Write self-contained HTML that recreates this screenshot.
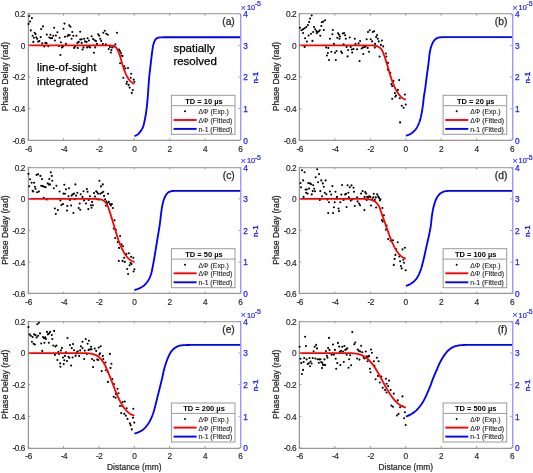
<!DOCTYPE html>
<html><head><meta charset="utf-8"><style>
html,body{margin:0;padding:0;background:#fff;}
svg{display:block;font-family:"Liberation Sans", sans-serif;will-change:transform;}
</style></head><body>
<svg width="533" height="473" viewBox="0 0 533 473">
<rect width="533" height="473" fill="#fff"/>
<clipPath id="ca"><rect x="28.2" y="13.7" width="212.20000000000002" height="126.60000000000001"/></clipPath>
<path d="M27.5 13V141M29 14.5H240.4M29 139.5H240.4" stroke="#e6e6e6" stroke-width="1" fill="none" shape-rendering="crispEdges"/>
<path d="M28 13.5H240.4" stroke="#aaaaaa" stroke-width="1" fill="none" shape-rendering="crispEdges"/>
<path d="M28.5 13V141M28 140.5H240.4" stroke="#969696" stroke-width="1" fill="none" shape-rendering="crispEdges"/>
<path d="M241.5 13.7V140.3" stroke="#d4d4ff" stroke-width="1" fill="none" shape-rendering="crispEdges"/>
<path d="M240.5 13.7V140.3" stroke="#9c9cff" stroke-width="1" fill="none" shape-rendering="crispEdges"/>
<path d="M29.2 16.0h0M31.9 18.1h0M30.0 21.6h0M28.5 24.1h0M30.8 30.4h0M34.6 32.7h0M35.6 34.1h0M32.6 35.8h0M33.9 37.8h0M36.3 37.3h0M37.1 38.8h0M33.3 41.9h0M38.1 41.6h0M39.4 41.1h0M40.7 37.1h0M41.2 29.0h0M43.0 26.4h0M42.2 43.4h0M44.2 46.4h0M45.4 42.9h0M46.7 43.2h0M48.3 46.2h0M46.8 34.6h0M49.3 37.5h0M50.8 38.3h0M52.1 38.1h0M50.5 34.8h0M53.3 35.8h0M54.1 27.7h0M54.9 40.5h0M55.9 35.5h0M57.4 32.2h0M59.6 37.8h0M58.9 45.9h0M60.9 42.2h0M61.9 47.4h0M63.0 46.4h0M63.5 28.7h0M64.5 23.6h0M65.0 36.8h0M66.0 43.9h0M60.4 55.0h0M67.5 36.3h0M68.5 34.8h0M69.3 25.4h0M70.5 26.7h0M69.7 35.3h0M71.6 38.8h0M72.3 32.0h0M73.3 35.8h0M74.1 47.9h0M75.1 46.4h0M76.4 35.8h0M77.7 47.9h0M77.4 42.9h0M78.7 41.9h0M80.2 31.7h0M80.2 39.5h0M81.7 39.3h0M81.7 42.9h0M82.5 49.5h0M83.5 47.4h0M84.2 38.8h0M85.0 41.4h0M86.6 41.9h0M87.6 38.3h0M88.9 40.5h0M87.1 47.4h0M88.6 46.4h0M90.1 47.4h0M91.6 36.3h0M93.1 39.1h0M94.7 40.3h0M96.0 41.1h0M97.0 43.9h0M95.2 47.4h0M94.0 52.7h0M98.2 34.3h0M99.2 35.8h0M100.2 38.8h0M101.2 40.9h0M102.8 43.9h0M103.3 32.7h0M104.8 30.7h0M106.3 33.8h0M107.8 34.8h0M105.8 44.2h0M108.8 49.0h0M109.9 46.9h0M111.4 50.0h0M110.9 52.5h0M112.2 47.4h0M113.9 46.4h0M115.4 44.4h0M117.0 32.7h0M119.0 49.5h0M120.0 51.0h0M121.0 53.0h0M121.5 55.5h0M122.5 56.0h0M120.1 63.2h0M124.3 66.4h0M125.4 68.5h0M128.0 68.0h0M131.2 73.8h0M123.3 77.7h0M130.7 77.7h0M127.0 81.8h0M126.5 83.7h0M128.6 84.9h0M129.6 87.6h0M133.7 79.6h0M134.4 81.8h0M132.8 90.0h0M131.8 92.9h0" stroke="#000" stroke-width="2.1" stroke-linecap="round" fill="none"/>
<polyline points="28.20,45.35 28.64,45.35 29.08,45.35 29.53,45.35 29.97,45.35 30.41,45.35 30.85,45.35 31.29,45.35 31.74,45.35 32.18,45.35 32.62,45.35 33.06,45.35 33.50,45.35 33.95,45.35 34.39,45.35 34.83,45.35 35.27,45.35 35.72,45.35 36.16,45.35 36.60,45.35 37.04,45.35 37.48,45.35 37.93,45.35 38.37,45.35 38.81,45.35 39.25,45.35 39.69,45.35 40.14,45.35 40.58,45.35 41.02,45.35 41.46,45.35 41.90,45.35 42.35,45.35 42.79,45.35 43.23,45.35 43.67,45.35 44.12,45.35 44.56,45.35 45.00,45.35 45.44,45.35 45.88,45.35 46.33,45.35 46.77,45.35 47.21,45.35 47.65,45.35 48.09,45.35 48.54,45.35 48.98,45.35 49.42,45.35 49.86,45.35 50.30,45.35 50.75,45.35 51.19,45.35 51.63,45.35 52.07,45.35 52.51,45.35 52.96,45.35 53.40,45.35 53.84,45.35 54.28,45.35 54.73,45.35 55.17,45.35 55.61,45.35 56.05,45.35 56.49,45.35 56.94,45.35 57.38,45.35 57.82,45.35 58.26,45.35 58.70,45.35 59.15,45.35 59.59,45.35 60.03,45.35 60.47,45.35 60.91,45.35 61.36,45.35 61.80,45.35 62.24,45.35 62.68,45.35 63.12,45.35 63.57,45.35 64.01,45.35 64.45,45.35 64.89,45.35 65.34,45.35 65.78,45.35 66.22,45.35 66.66,45.35 67.10,45.35 67.55,45.35 67.99,45.35 68.43,45.35 68.87,45.35 69.31,45.35 69.76,45.35 70.20,45.35 70.64,45.35 71.08,45.35 71.52,45.35 71.97,45.35 72.41,45.35 72.85,45.35 73.29,45.35 73.73,45.35 74.18,45.35 74.62,45.35 75.06,45.35 75.50,45.35 75.95,45.35 76.39,45.35 76.83,45.35 77.27,45.35 77.71,45.35 78.16,45.35 78.60,45.35 79.04,45.35 79.48,45.35 79.92,45.35 80.37,45.35 80.81,45.35 81.25,45.35 81.69,45.35 82.13,45.35 82.58,45.35 83.02,45.35 83.46,45.35 83.90,45.35 84.34,45.35 84.79,45.35 85.23,45.35 85.67,45.35 86.11,45.35 86.56,45.35 87.00,45.35 87.44,45.35 87.88,45.35 88.32,45.35 88.77,45.35 89.21,45.35 89.65,45.35 90.09,45.35 90.53,45.35 90.98,45.35 91.42,45.35 91.86,45.35 92.30,45.35 92.74,45.35 93.19,45.35 93.63,45.35 94.07,45.35 94.51,45.35 94.95,45.35 95.40,45.35 95.84,45.35 96.28,45.35 96.72,45.35 97.17,45.35 97.61,45.35 98.05,45.35 98.49,45.35 98.93,45.35 99.38,45.35 99.82,45.35 100.26,45.35 100.70,45.35 101.14,45.35 101.59,45.35 102.03,45.35 102.47,45.36 102.91,45.36 103.35,45.36 103.80,45.36 104.24,45.36 104.68,45.37 105.12,45.37 105.56,45.38 106.01,45.38 106.45,45.38 106.89,45.39 107.33,45.40 107.78,45.40 108.22,45.41 108.66,45.42 109.10,45.42 109.54,45.44 109.99,45.45 110.43,45.48 110.87,45.51 111.31,45.54 111.75,45.58 112.20,45.64 112.64,45.71 113.08,45.81 113.52,45.93 113.96,46.09 114.41,46.27 114.85,46.52 115.29,46.82 115.73,47.20 116.17,47.69 116.62,48.30 117.06,49.02 117.50,49.85 117.94,50.77 118.39,51.75 118.83,52.80 119.27,53.91 119.71,55.11 120.15,56.45 120.60,57.96 121.04,59.57 121.48,61.16 121.92,62.71 122.36,64.21 122.81,65.65 123.25,67.03 123.69,68.36 124.13,69.62 124.57,70.83 125.02,71.99 125.46,73.08 125.90,74.09 126.34,75.04 126.78,75.92 127.23,76.74 127.67,77.51 128.11,78.22 128.55,78.89 129.00,79.51 129.44,80.09 129.88,80.62 130.32,81.11 130.76,81.55 131.21,81.95 131.65,82.31 132.09,82.64 132.53,82.92 132.97,83.17 133.42,83.39 133.86,83.60 134.30,83.93" fill="none" stroke="#ff0000" stroke-width="1.8" stroke-linejoin="round"/>
<polyline points="134.40,135.90 134.75,135.86 135.11,135.78 135.46,135.66 135.82,135.52 136.17,135.35 136.53,135.15 136.88,134.94 137.24,134.72 137.59,134.48 137.95,134.24 138.30,133.97 138.65,133.64 139.01,133.26 139.36,132.83 139.72,132.37 140.07,131.89 140.43,131.38 140.78,130.87 141.14,130.36 141.49,129.84 141.84,129.29 142.20,128.70 142.55,128.03 142.91,127.26 143.26,126.35 143.62,125.14 143.97,123.69 144.33,122.13 144.68,120.49 145.04,118.69 145.39,116.73 145.74,114.63 146.10,112.36 146.45,109.84 146.81,106.99 147.16,103.68 147.52,99.94 147.87,95.56 148.23,90.38 148.58,85.07 148.94,80.35 149.29,76.58 149.64,73.28 150.00,70.11 150.35,66.97 150.71,63.93 151.06,60.92 151.42,57.84 151.77,54.78 152.13,52.01 152.48,49.48 152.83,47.16 153.19,45.34 153.54,43.97 153.90,42.78 154.25,41.77 154.61,40.95 154.96,40.33 155.32,39.78 155.67,39.29 156.03,38.87 156.38,38.53 156.73,38.28 157.09,38.12 157.44,37.98 157.80,37.85 158.15,37.74 158.51,37.64 158.86,37.56 159.22,37.49 159.57,37.44 159.93,37.41 160.28,37.39 160.63,37.38 160.99,37.36 161.34,37.35 161.70,37.34 162.05,37.32 162.41,37.31 162.76,37.30 163.12,37.29 163.47,37.28 163.82,37.27 164.18,37.26 164.53,37.26 164.89,37.25 165.24,37.24 165.60,37.24 165.95,37.23 166.31,37.22 166.66,37.22 167.02,37.22 167.37,37.21 167.72,37.21 168.08,37.21 168.43,37.20 168.79,37.20 169.14,37.20 169.50,37.20 169.85,37.20 170.21,37.20 170.56,37.20 170.92,37.20 171.27,37.20 171.62,37.20 171.98,37.20 172.33,37.20 172.69,37.20 173.04,37.20 173.40,37.20 173.75,37.20 174.11,37.20 174.46,37.20 174.81,37.20 175.17,37.20 175.52,37.20 175.88,37.20 176.23,37.20 176.59,37.20 176.94,37.20 177.30,37.20 177.65,37.20 178.01,37.20 178.36,37.20 178.71,37.20 179.07,37.20 179.42,37.20 179.78,37.20 180.13,37.20 180.49,37.20 180.84,37.20 181.20,37.20 181.55,37.20 181.91,37.20 182.26,37.20 182.61,37.20 182.97,37.20 183.32,37.20 183.68,37.20 184.03,37.20 184.39,37.20 184.74,37.20 185.10,37.20 185.45,37.20 185.80,37.20 186.16,37.20 186.51,37.20 186.87,37.20 187.22,37.20 187.58,37.20 187.93,37.20 188.29,37.20 188.64,37.20 189.00,37.20 189.35,37.20 189.70,37.20 190.06,37.20 190.41,37.20 190.77,37.20 191.12,37.20 191.48,37.20 191.83,37.20 192.19,37.20 192.54,37.20 192.89,37.20 193.25,37.20 193.60,37.20 193.96,37.20 194.31,37.20 194.67,37.20 195.02,37.20 195.38,37.20 195.73,37.20 196.09,37.20 196.44,37.20 196.79,37.20 197.15,37.20 197.50,37.20 197.86,37.20 198.21,37.20 198.57,37.20 198.92,37.20 199.28,37.20 199.63,37.20 199.99,37.20 200.34,37.20 200.69,37.20 201.05,37.20 201.40,37.20 201.76,37.20 202.11,37.20 202.47,37.20 202.82,37.20 203.18,37.20 203.53,37.20 203.88,37.20 204.24,37.20 204.59,37.20 204.95,37.20 205.30,37.20 205.66,37.20 206.01,37.20 206.37,37.20 206.72,37.20 207.08,37.20 207.43,37.20 207.78,37.20 208.14,37.20 208.49,37.20 208.85,37.20 209.20,37.20 209.56,37.20 209.91,37.20 210.27,37.20 210.62,37.20 210.98,37.20 211.33,37.20 211.68,37.20 212.04,37.20 212.39,37.20 212.75,37.20 213.10,37.20 213.46,37.20 213.81,37.20 214.17,37.20 214.52,37.20 214.87,37.20 215.23,37.20 215.58,37.20 215.94,37.20 216.29,37.20 216.65,37.20 217.00,37.20 217.36,37.20 217.71,37.20 218.07,37.20 218.42,37.20 218.77,37.20 219.13,37.20 219.48,37.20 219.84,37.20 220.19,37.20 220.55,37.20 220.90,37.20 221.26,37.20 221.61,37.20 221.97,37.20 222.32,37.20 222.67,37.20 223.03,37.20 223.38,37.20 223.74,37.20 224.09,37.20 224.45,37.20 224.80,37.20 225.16,37.20 225.51,37.20 225.86,37.20 226.22,37.20 226.57,37.20 226.93,37.20 227.28,37.20 227.64,37.20 227.99,37.20 228.35,37.20 228.70,37.20 229.06,37.20 229.41,37.20 229.76,37.20 230.12,37.20 230.47,37.20 230.83,37.20 231.18,37.20 231.54,37.20 231.89,37.20 232.25,37.20 232.60,37.20 232.96,37.20 233.31,37.20 233.66,37.20 234.02,37.20 234.37,37.20 234.73,37.20 235.08,37.20 235.44,37.20 235.79,37.20 236.15,37.20 236.50,37.20 236.85,37.20 237.21,37.20 237.56,37.20 237.92,37.20 238.27,37.20 238.63,37.20 238.98,37.20 239.34,37.20 239.69,37.20 240.05,37.20 240.40,37.20" fill="none" stroke="#0000ff" stroke-width="1.85" stroke-linejoin="round" clip-path="url(#ca)"/>
<path d="M28.2 140.3v-2M28.2 13.7v2M63.6 140.3v-2M63.6 13.7v2M98.9 140.3v-2M98.9 13.7v2M134.3 140.3v-2M134.3 13.7v2M169.7 140.3v-2M169.7 13.7v2M205.0 140.3v-2M205.0 13.7v2M240.4 140.3v-2M240.4 13.7v2M28.2 13.7h2M28.2 45.4h2M28.2 77.0h2M28.2 108.7h2M28.2 140.3h2" stroke="#969696" stroke-width="1" fill="none"/>
<path d="M240.4 140.3h-2M240.4 108.7h-2M240.4 77.0h-2M240.4 45.4h-2M240.4 13.7h-2" stroke="#9c9cff" stroke-width="1" fill="none"/>
<text x="24.9" y="17.1" text-anchor="end" font-size="8.3" letter-spacing="-0.5" fill="#262626" stroke="#262626" stroke-width="0.15">0.2</text>
<text x="24.9" y="48.8" text-anchor="end" font-size="8.3" letter-spacing="-0.5" fill="#262626" stroke="#262626" stroke-width="0.15">0</text>
<text x="24.9" y="80.4" text-anchor="end" font-size="8.3" letter-spacing="-0.5" fill="#262626" stroke="#262626" stroke-width="0.15">-0.2</text>
<text x="24.9" y="112.1" text-anchor="end" font-size="8.3" letter-spacing="-0.5" fill="#262626" stroke="#262626" stroke-width="0.15">-0.4</text>
<text x="24.9" y="143.7" text-anchor="end" font-size="8.3" letter-spacing="-0.5" fill="#262626" stroke="#262626" stroke-width="0.15">-0.6</text>
<text x="28.6" y="151.6" text-anchor="middle" font-size="8.3" letter-spacing="-0.4" fill="#262626" stroke="#262626" stroke-width="0.15">-6</text>
<text x="64.0" y="151.6" text-anchor="middle" font-size="8.3" letter-spacing="-0.4" fill="#262626" stroke="#262626" stroke-width="0.15">-4</text>
<text x="99.3" y="151.6" text-anchor="middle" font-size="8.3" letter-spacing="-0.4" fill="#262626" stroke="#262626" stroke-width="0.15">-2</text>
<text x="134.5" y="151.6" text-anchor="middle" font-size="8.3" fill="#262626" stroke="#262626" stroke-width="0.15">0</text>
<text x="169.9" y="151.6" text-anchor="middle" font-size="8.3" fill="#262626" stroke="#262626" stroke-width="0.15">2</text>
<text x="205.2" y="151.6" text-anchor="middle" font-size="8.3" fill="#262626" stroke="#262626" stroke-width="0.15">4</text>
<text x="240.6" y="151.6" text-anchor="middle" font-size="8.3" fill="#262626" stroke="#262626" stroke-width="0.15">6</text>
<text x="243.3" y="143.5" font-size="8.3" fill="#2020ff" stroke="#2020ff" stroke-width="0.25">0</text>
<text x="243.3" y="111.9" font-size="8.3" fill="#2020ff" stroke="#2020ff" stroke-width="0.25">1</text>
<text x="243.3" y="80.2" font-size="8.3" fill="#2020ff" stroke="#2020ff" stroke-width="0.25">2</text>
<text x="243.3" y="48.6" font-size="8.3" fill="#2020ff" stroke="#2020ff" stroke-width="0.25">3</text>
<text x="243.3" y="16.9" font-size="8.3" fill="#2020ff" stroke="#2020ff" stroke-width="0.25">4</text>
<text x="240.6" y="10.6" font-size="9.5" fill="#2020ff">×</text>
<text x="246.9" y="9.8" font-size="7.4" stroke="#2020ff" stroke-width="0.2" fill="#2020ff">10</text>
<text x="254.7" y="6.3" font-size="7" stroke="#2020ff" stroke-width="0.2" fill="#2020ff">-5</text>
<text transform="translate(7.8,76.6) rotate(-90)" text-anchor="middle" font-size="8.6" fill="#262626" stroke="#262626" stroke-width="0.25">Phase Delay (rad)</text>
<text transform="translate(258.2,77.6) rotate(-90)" text-anchor="middle" font-size="8.1" fill="#2020ff" stroke="#2020ff" stroke-width="0.35">n-1</text>
<text x="234.8" y="24.9" text-anchor="end" font-size="10.3" fill="#262626" stroke="#262626" stroke-width="0.25">(a)</text>
<rect x="171.4" y="95.3" width="63.6" height="39.0" fill="#fff" stroke="#9a9a9a" stroke-width="1"/>
<path d="M171.4 105.7H235.0" stroke="#9a9a9a" stroke-width="1"/>
<text x="204.0" y="103.5" text-anchor="middle" font-size="7.5" font-weight="bold" fill="#000">TD = 10 µs</text>
<circle cx="185.0" cy="111.3" r="1" fill="#000"/>
<path d="M173.6 120.0h23" stroke="#ff0000" stroke-width="1.9"/>
<path d="M173.6 128.9h23" stroke="#0000ff" stroke-width="1.9"/>
<text x="198.5" y="114.1" font-size="6.9" fill="#262626" stroke="#262626" stroke-width="0.12">ΔΦ (Exp.)</text>
<text x="198.5" y="122.8" font-size="6.9" fill="#262626" stroke="#262626" stroke-width="0.12">ΔΦ (Fitted)</text>
<text x="198.5" y="131.5" font-size="6.9" fill="#262626" stroke="#262626" stroke-width="0.12">n-1 (Fitted)</text>
<clipPath id="cb"><rect x="299.4" y="13.7" width="212.70000000000005" height="126.60000000000001"/></clipPath>
<path d="M298.5 13V141M300 14.5H512.1M300 139.5H512.1" stroke="#e6e6e6" stroke-width="1" fill="none" shape-rendering="crispEdges"/>
<path d="M299 13.5H512.1" stroke="#aaaaaa" stroke-width="1" fill="none" shape-rendering="crispEdges"/>
<path d="M299.5 13V141M299 140.5H512.1" stroke="#969696" stroke-width="1" fill="none" shape-rendering="crispEdges"/>
<path d="M513.5 13.7V140.3" stroke="#d4d4ff" stroke-width="1" fill="none" shape-rendering="crispEdges"/>
<path d="M512.5 13.7V140.3" stroke="#9c9cff" stroke-width="1" fill="none" shape-rendering="crispEdges"/>
<path d="M311.7 15.5h0M310.1 18.6h0M309.1 22.1h0M307.9 25.1h0M306.3 27.0h0M304.6 28.2h0M303.1 29.2h0M301.5 30.2h0M300.0 27.7h0M303.1 33.0h0M305.1 38.3h0M306.9 41.6h0M308.6 35.5h0M311.0 33.8h0M313.2 32.0h0M312.4 40.9h0M314.0 27.0h0M315.2 29.2h0M316.4 31.0h0M316.7 33.2h0M317.7 32.0h0M318.8 31.2h0M319.8 30.2h0M320.3 35.8h0M321.3 26.0h0M321.8 22.3h0M323.3 21.6h0M325.1 20.3h0M323.8 30.0h0M304.6 46.9h0M326.1 47.4h0M328.4 47.9h0M326.9 55.5h0M327.9 53.0h0M329.9 38.8h0M331.4 51.7h0M332.4 34.3h0M332.9 30.0h0M333.9 43.9h0M335.0 52.7h0M336.5 51.0h0M337.3 37.8h0M338.0 33.2h0M339.0 34.8h0M340.0 36.5h0M339.5 38.8h0M341.1 51.5h0M342.1 53.0h0M342.8 33.5h0M344.1 33.0h0M345.1 35.3h0M345.8 38.8h0M343.6 44.4h0M346.6 46.9h0M348.1 50.0h0M347.6 56.4h0M349.7 37.5h0M350.7 46.9h0M351.7 49.5h0M352.2 52.5h0M353.5 49.0h0M354.8 38.8h0M355.5 43.9h0M357.1 49.3h0M358.6 43.4h0M360.1 41.1h0M361.6 48.5h0M363.1 47.4h0M364.6 46.9h0M365.7 46.4h0M366.7 39.3h0M368.0 32.0h0M369.7 30.2h0M370.7 39.3h0M372.1 41.4h0M372.8 32.0h0M374.1 31.2h0M367.7 47.9h0M369.0 51.7h0M363.3 54.0h0M375.1 43.9h0M374.8 47.6h0M376.1 37.1h0M377.1 35.1h0M377.8 38.8h0M378.8 41.4h0M381.9 40.5h0M380.9 44.9h0M383.2 46.4h0M379.6 56.5h0M385.9 53.5h0M386.4 56.5h0M388.0 62.9h0M387.8 69.6h0M390.3 72.8h0M393.5 81.0h0M399.2 80.1h0M391.3 84.0h0M392.2 86.1h0M397.9 89.9h0M394.8 93.1h0M396.0 95.6h0M392.2 98.8h0M395.4 96.7h0M399.8 98.2h0M404.9 94.6h0M401.8 105.8h0M403.6 107.7h0M405.8 104.5h0M400.1 122.4h0M329.0 60.0h0M335.8 60.0h0M359.6 61.0h0" stroke="#000" stroke-width="2.1" stroke-linecap="round" fill="none"/>
<polyline points="299.40,45.35 299.84,45.35 300.29,45.35 300.73,45.35 301.17,45.35 301.62,45.35 302.06,45.35 302.50,45.35 302.94,45.35 303.39,45.35 303.83,45.35 304.27,45.35 304.72,45.35 305.16,45.35 305.60,45.35 306.05,45.35 306.49,45.35 306.93,45.35 307.38,45.35 307.82,45.35 308.26,45.35 308.71,45.35 309.15,45.35 309.59,45.35 310.03,45.35 310.48,45.35 310.92,45.35 311.36,45.35 311.81,45.35 312.25,45.35 312.69,45.35 313.14,45.35 313.58,45.35 314.02,45.35 314.47,45.35 314.91,45.35 315.35,45.35 315.80,45.35 316.24,45.35 316.68,45.35 317.12,45.35 317.57,45.35 318.01,45.35 318.45,45.35 318.90,45.35 319.34,45.35 319.78,45.35 320.23,45.35 320.67,45.35 321.11,45.35 321.56,45.35 322.00,45.35 322.44,45.35 322.89,45.35 323.33,45.35 323.77,45.35 324.21,45.35 324.66,45.35 325.10,45.35 325.54,45.35 325.99,45.35 326.43,45.35 326.87,45.35 327.32,45.35 327.76,45.35 328.20,45.35 328.65,45.35 329.09,45.35 329.53,45.35 329.98,45.35 330.42,45.35 330.86,45.35 331.31,45.35 331.75,45.35 332.19,45.35 332.63,45.35 333.08,45.35 333.52,45.35 333.96,45.35 334.41,45.35 334.85,45.35 335.29,45.35 335.74,45.35 336.18,45.35 336.62,45.35 337.07,45.35 337.51,45.35 337.95,45.35 338.39,45.35 338.84,45.35 339.28,45.35 339.72,45.35 340.17,45.35 340.61,45.35 341.05,45.35 341.50,45.35 341.94,45.35 342.38,45.35 342.83,45.35 343.27,45.35 343.71,45.35 344.16,45.35 344.60,45.35 345.04,45.35 345.49,45.35 345.93,45.35 346.37,45.35 346.81,45.35 347.26,45.35 347.70,45.35 348.14,45.35 348.59,45.35 349.03,45.35 349.47,45.35 349.92,45.35 350.36,45.35 350.80,45.35 351.25,45.35 351.69,45.35 352.13,45.35 352.57,45.35 353.02,45.35 353.46,45.35 353.90,45.35 354.35,45.35 354.79,45.35 355.23,45.35 355.68,45.35 356.12,45.35 356.56,45.35 357.01,45.35 357.45,45.35 357.89,45.35 358.34,45.35 358.78,45.35 359.22,45.35 359.67,45.35 360.11,45.35 360.55,45.35 360.99,45.35 361.44,45.35 361.88,45.35 362.32,45.35 362.77,45.35 363.21,45.35 363.65,45.35 364.10,45.35 364.54,45.35 364.98,45.35 365.43,45.35 365.87,45.35 366.31,45.35 366.75,45.35 367.20,45.35 367.64,45.36 368.08,45.36 368.53,45.36 368.97,45.37 369.41,45.38 369.86,45.38 370.30,45.39 370.74,45.40 371.19,45.41 371.63,45.43 372.07,45.44 372.52,45.46 372.96,45.48 373.40,45.52 373.85,45.56 374.29,45.61 374.73,45.68 375.17,45.75 375.62,45.84 376.06,45.93 376.50,46.04 376.95,46.18 377.39,46.33 377.83,46.51 378.28,46.72 378.72,46.95 379.16,47.22 379.61,47.52 380.05,47.88 380.49,48.28 380.94,48.74 381.38,49.27 381.82,49.89 382.26,50.65 382.71,51.63 383.15,52.72 383.59,53.86 384.04,55.05 384.48,56.27 384.92,57.55 385.37,58.88 385.81,60.29 386.25,61.74 386.70,63.18 387.14,64.58 387.58,65.98 388.02,67.47 388.47,69.04 388.91,70.63 389.35,72.19 389.80,73.71 390.24,75.19 390.68,76.62 391.13,78.01 391.57,79.34 392.01,80.61 392.46,81.83 392.90,83.00 393.34,84.11 393.79,85.18 394.23,86.21 394.67,87.19 395.12,88.12 395.56,89.01 396.00,89.86 396.44,90.66 396.89,91.42 397.33,92.15 397.77,92.83 398.22,93.48 398.66,94.09 399.10,94.67 399.55,95.22 399.99,95.73 400.43,96.21 400.88,96.66 401.32,97.07 401.76,97.45 402.21,97.80 402.65,98.12 403.09,98.42 403.53,98.68 403.98,98.92 404.42,99.14 404.86,99.34 405.31,99.53 405.75,99.86" fill="none" stroke="#ff0000" stroke-width="1.8" stroke-linejoin="round"/>
<polyline points="405.80,135.60 406.16,135.55 406.51,135.49 406.87,135.40 407.22,135.31 407.58,135.20 407.93,135.07 408.29,134.94 408.64,134.80 409.00,134.65 409.36,134.49 409.71,134.33 410.07,134.17 410.42,133.98 410.78,133.78 411.13,133.54 411.49,133.29 411.84,133.02 412.20,132.74 412.55,132.44 412.91,132.13 413.27,131.82 413.62,131.50 413.98,131.16 414.33,130.81 414.69,130.44 415.04,130.05 415.40,129.63 415.75,129.18 416.11,128.71 416.47,128.20 416.82,127.64 417.18,127.02 417.53,126.35 417.89,125.62 418.24,124.85 418.60,124.04 418.95,123.18 419.31,122.24 419.67,121.22 420.02,120.10 420.38,118.89 420.73,117.51 421.09,115.94 421.44,114.21 421.80,112.38 422.15,110.41 422.51,108.20 422.86,105.64 423.22,102.57 423.58,99.44 423.93,96.29 424.29,93.81 424.64,91.88 425.00,89.94 425.35,87.52 425.71,84.73 426.06,81.76 426.42,78.82 426.78,76.07 427.13,73.47 427.49,70.93 427.84,68.38 428.20,65.76 428.55,63.00 428.91,59.89 429.26,56.33 429.62,53.48 429.98,51.49 430.33,49.80 430.69,48.35 431.04,47.10 431.40,46.00 431.75,45.00 432.11,44.10 432.46,43.29 432.82,42.58 433.17,41.98 433.53,41.43 433.89,40.91 434.24,40.43 434.60,40.00 434.95,39.62 435.31,39.29 435.66,39.02 436.02,38.80 436.37,38.58 436.73,38.38 437.09,38.19 437.44,38.01 437.80,37.85 438.15,37.71 438.51,37.60 438.86,37.50 439.22,37.43 439.57,37.39 439.93,37.36 440.29,37.33 440.64,37.31 441.00,37.28 441.35,37.26 441.71,37.23 442.06,37.21 442.42,37.19 442.77,37.18 443.13,37.16 443.48,37.15 443.84,37.13 444.20,37.12 444.55,37.12 444.91,37.11 445.26,37.10 445.62,37.10 445.97,37.10 446.33,37.10 446.68,37.10 447.04,37.10 447.40,37.10 447.75,37.10 448.11,37.10 448.46,37.10 448.82,37.10 449.17,37.10 449.53,37.10 449.88,37.10 450.24,37.10 450.60,37.10 450.95,37.10 451.31,37.10 451.66,37.10 452.02,37.10 452.37,37.10 452.73,37.10 453.08,37.10 453.44,37.10 453.79,37.10 454.15,37.10 454.51,37.10 454.86,37.10 455.22,37.10 455.57,37.10 455.93,37.10 456.28,37.10 456.64,37.10 456.99,37.10 457.35,37.10 457.71,37.10 458.06,37.10 458.42,37.10 458.77,37.10 459.13,37.10 459.48,37.10 459.84,37.10 460.19,37.10 460.55,37.10 460.91,37.10 461.26,37.10 461.62,37.10 461.97,37.10 462.33,37.10 462.68,37.10 463.04,37.10 463.39,37.10 463.75,37.10 464.11,37.10 464.46,37.10 464.82,37.10 465.17,37.10 465.53,37.10 465.88,37.10 466.24,37.10 466.59,37.10 466.95,37.10 467.30,37.10 467.66,37.10 468.02,37.10 468.37,37.10 468.73,37.10 469.08,37.10 469.44,37.10 469.79,37.10 470.15,37.10 470.50,37.10 470.86,37.10 471.22,37.10 471.57,37.10 471.93,37.10 472.28,37.10 472.64,37.10 472.99,37.10 473.35,37.10 473.70,37.10 474.06,37.10 474.42,37.10 474.77,37.10 475.13,37.10 475.48,37.10 475.84,37.10 476.19,37.10 476.55,37.10 476.90,37.10 477.26,37.10 477.61,37.10 477.97,37.10 478.33,37.10 478.68,37.10 479.04,37.10 479.39,37.10 479.75,37.10 480.10,37.10 480.46,37.10 480.81,37.10 481.17,37.10 481.53,37.10 481.88,37.10 482.24,37.10 482.59,37.10 482.95,37.10 483.30,37.10 483.66,37.10 484.01,37.10 484.37,37.10 484.73,37.10 485.08,37.10 485.44,37.10 485.79,37.10 486.15,37.10 486.50,37.10 486.86,37.10 487.21,37.10 487.57,37.10 487.92,37.10 488.28,37.10 488.64,37.10 488.99,37.10 489.35,37.10 489.70,37.10 490.06,37.10 490.41,37.10 490.77,37.10 491.12,37.10 491.48,37.10 491.84,37.10 492.19,37.10 492.55,37.10 492.90,37.10 493.26,37.10 493.61,37.10 493.97,37.10 494.32,37.10 494.68,37.10 495.04,37.10 495.39,37.10 495.75,37.10 496.10,37.10 496.46,37.10 496.81,37.10 497.17,37.10 497.52,37.10 497.88,37.10 498.23,37.10 498.59,37.10 498.95,37.10 499.30,37.10 499.66,37.10 500.01,37.10 500.37,37.10 500.72,37.10 501.08,37.10 501.43,37.10 501.79,37.10 502.15,37.10 502.50,37.10 502.86,37.10 503.21,37.10 503.57,37.10 503.92,37.10 504.28,37.10 504.63,37.10 504.99,37.10 505.35,37.10 505.70,37.10 506.06,37.10 506.41,37.10 506.77,37.10 507.12,37.10 507.48,37.10 507.83,37.10 508.19,37.10 508.54,37.10 508.90,37.10 509.26,37.10 509.61,37.10 509.97,37.10 510.32,37.10 510.68,37.10 511.03,37.10 511.39,37.10 511.74,37.10 512.10,37.10" fill="none" stroke="#0000ff" stroke-width="1.85" stroke-linejoin="round" clip-path="url(#cb)"/>
<path d="M299.4 140.3v-2M299.4 13.7v2M334.8 140.3v-2M334.8 13.7v2M370.3 140.3v-2M370.3 13.7v2M405.8 140.3v-2M405.8 13.7v2M441.2 140.3v-2M441.2 13.7v2M476.7 140.3v-2M476.7 13.7v2M512.1 140.3v-2M512.1 13.7v2M299.4 13.7h2M299.4 45.4h2M299.4 77.0h2M299.4 108.7h2M299.4 140.3h2" stroke="#969696" stroke-width="1" fill="none"/>
<path d="M512.1 140.3h-2M512.1 108.7h-2M512.1 77.0h-2M512.1 45.4h-2M512.1 13.7h-2" stroke="#9c9cff" stroke-width="1" fill="none"/>
<text x="296.1" y="17.1" text-anchor="end" font-size="8.3" letter-spacing="-0.5" fill="#262626" stroke="#262626" stroke-width="0.15">0.2</text>
<text x="296.1" y="48.8" text-anchor="end" font-size="8.3" letter-spacing="-0.5" fill="#262626" stroke="#262626" stroke-width="0.15">0</text>
<text x="296.1" y="80.4" text-anchor="end" font-size="8.3" letter-spacing="-0.5" fill="#262626" stroke="#262626" stroke-width="0.15">-0.2</text>
<text x="296.1" y="112.1" text-anchor="end" font-size="8.3" letter-spacing="-0.5" fill="#262626" stroke="#262626" stroke-width="0.15">-0.4</text>
<text x="296.1" y="143.7" text-anchor="end" font-size="8.3" letter-spacing="-0.5" fill="#262626" stroke="#262626" stroke-width="0.15">-0.6</text>
<text x="299.8" y="151.6" text-anchor="middle" font-size="8.3" letter-spacing="-0.4" fill="#262626" stroke="#262626" stroke-width="0.15">-6</text>
<text x="335.2" y="151.6" text-anchor="middle" font-size="8.3" letter-spacing="-0.4" fill="#262626" stroke="#262626" stroke-width="0.15">-4</text>
<text x="370.7" y="151.6" text-anchor="middle" font-size="8.3" letter-spacing="-0.4" fill="#262626" stroke="#262626" stroke-width="0.15">-2</text>
<text x="405.9" y="151.6" text-anchor="middle" font-size="8.3" fill="#262626" stroke="#262626" stroke-width="0.15">0</text>
<text x="441.4" y="151.6" text-anchor="middle" font-size="8.3" fill="#262626" stroke="#262626" stroke-width="0.15">2</text>
<text x="476.9" y="151.6" text-anchor="middle" font-size="8.3" fill="#262626" stroke="#262626" stroke-width="0.15">4</text>
<text x="512.3" y="151.6" text-anchor="middle" font-size="8.3" fill="#262626" stroke="#262626" stroke-width="0.15">6</text>
<text x="515.0" y="143.5" font-size="8.3" fill="#2020ff" stroke="#2020ff" stroke-width="0.25">0</text>
<text x="515.0" y="111.9" font-size="8.3" fill="#2020ff" stroke="#2020ff" stroke-width="0.25">1</text>
<text x="515.0" y="80.2" font-size="8.3" fill="#2020ff" stroke="#2020ff" stroke-width="0.25">2</text>
<text x="515.0" y="48.6" font-size="8.3" fill="#2020ff" stroke="#2020ff" stroke-width="0.25">3</text>
<text x="515.0" y="16.9" font-size="8.3" fill="#2020ff" stroke="#2020ff" stroke-width="0.25">4</text>
<text x="512.3" y="10.6" font-size="9.5" fill="#2020ff">×</text>
<text x="518.6" y="9.8" font-size="7.4" stroke="#2020ff" stroke-width="0.2" fill="#2020ff">10</text>
<text x="526.4" y="6.3" font-size="7" stroke="#2020ff" stroke-width="0.2" fill="#2020ff">-5</text>
<text transform="translate(279.0,76.6) rotate(-90)" text-anchor="middle" font-size="8.6" fill="#262626" stroke="#262626" stroke-width="0.25">Phase Delay (rad)</text>
<text transform="translate(529.9,77.6) rotate(-90)" text-anchor="middle" font-size="8.1" fill="#2020ff" stroke="#2020ff" stroke-width="0.35">n-1</text>
<text x="507.4" y="24.9" text-anchor="end" font-size="10.3" fill="#262626" stroke="#262626" stroke-width="0.25">(b)</text>
<rect x="443.1" y="95.3" width="63.6" height="39.0" fill="#fff" stroke="#9a9a9a" stroke-width="1"/>
<path d="M443.1 105.7H506.7" stroke="#9a9a9a" stroke-width="1"/>
<text x="475.7" y="103.5" text-anchor="middle" font-size="7.5" font-weight="bold" fill="#000">TD = 20 µs</text>
<circle cx="456.7" cy="111.3" r="1" fill="#000"/>
<path d="M445.3 120.0h23" stroke="#ff0000" stroke-width="1.9"/>
<path d="M445.3 128.9h23" stroke="#0000ff" stroke-width="1.9"/>
<text x="470.2" y="114.1" font-size="6.9" fill="#262626" stroke="#262626" stroke-width="0.12">ΔΦ (Exp.)</text>
<text x="470.2" y="122.8" font-size="6.9" fill="#262626" stroke="#262626" stroke-width="0.12">ΔΦ (Fitted)</text>
<text x="470.2" y="131.5" font-size="6.9" fill="#262626" stroke="#262626" stroke-width="0.12">n-1 (Fitted)</text>
<clipPath id="cc"><rect x="28.2" y="167.3" width="212.20000000000002" height="126.39999999999998"/></clipPath>
<path d="M27.5 167V294M29 168.5H240.4M29 292.5H240.4" stroke="#e6e6e6" stroke-width="1" fill="none" shape-rendering="crispEdges"/>
<path d="M28 167.5H240.4" stroke="#aaaaaa" stroke-width="1" fill="none" shape-rendering="crispEdges"/>
<path d="M28.5 167V294M28 293.5H240.4" stroke="#969696" stroke-width="1" fill="none" shape-rendering="crispEdges"/>
<path d="M241.5 167.3V293.7" stroke="#d4d4ff" stroke-width="1" fill="none" shape-rendering="crispEdges"/>
<path d="M240.5 167.3V293.7" stroke="#9c9cff" stroke-width="1" fill="none" shape-rendering="crispEdges"/>
<path d="M28.5 173.9h0M30.0 179.2h0M29.2 186.2h0M31.6 182.7h0M34.1 182.7h0M34.9 186.8h0M35.6 188.8h0M32.6 190.8h0M33.3 191.5h0M37.1 192.3h0M38.9 191.5h0M36.6 174.9h0M38.1 174.3h0M40.4 175.9h0M42.0 179.0h0M41.2 185.7h0M42.7 186.1h0M44.2 186.8h0M45.7 187.3h0M43.7 197.9h0M46.7 199.4h0M47.8 183.4h0M49.3 179.0h0M49.1 184.7h0M50.1 184.4h0M50.8 172.3h0M51.8 175.9h0M52.3 180.7h0M53.8 188.3h0M56.4 185.7h0M54.9 208.5h0M57.9 210.1h0M59.6 191.5h0M60.4 200.4h0M61.4 205.0h0M63.0 204.0h0M63.5 193.6h0M65.0 193.8h0M64.3 184.7h0M66.0 189.3h0M67.3 206.0h0M67.0 210.6h0M68.5 196.2h0M69.0 188.3h0M70.0 199.9h0M71.1 205.5h0M71.6 195.6h0M72.6 194.4h0M74.1 193.6h0M75.4 184.4h0M74.8 199.2h0M76.1 195.6h0M77.4 192.8h0M79.7 203.5h0M78.7 208.0h0M80.7 194.2h0M80.2 209.8h0M82.5 196.9h0M83.5 191.3h0M84.0 200.4h0M86.0 203.5h0M86.9 189.1h0M87.6 191.8h0M88.6 199.9h0M89.9 196.2h0M92.1 201.9h0M90.9 205.3h0M92.9 205.3h0M91.6 207.7h0M88.3 209.1h0M94.0 193.1h0M95.0 196.6h0M96.2 191.3h0M97.2 192.3h0M98.0 193.6h0M98.7 199.6h0M99.4 180.7h0M101.0 186.4h0M102.8 184.4h0M100.2 193.8h0M101.8 192.8h0M103.3 191.8h0M104.1 195.9h0M108.1 193.8h0M105.1 199.2h0M106.3 201.4h0M107.3 203.0h0M108.8 201.9h0M109.9 204.0h0M110.9 205.5h0M111.9 204.0h0M105.8 205.7h0M112.9 208.0h0M114.6 220.2h0M113.7 228.5h0M115.9 229.8h0M115.2 238.0h0M120.1 236.1h0M117.8 242.1h0M121.6 244.4h0M123.1 246.3h0M119.0 247.9h0M126.4 253.9h0M128.9 253.2h0M124.1 257.7h0M131.1 256.8h0M133.3 257.7h0M118.8 260.9h0M122.6 260.9h0M124.8 261.9h0M130.5 262.8h0M131.5 264.1h0M129.6 265.2h0M127.2 269.0h0M134.4 269.2h0M133.6 271.5h0M128.1 274.0h0M55.8 214.0h0M73.4 213.0h0" stroke="#000" stroke-width="2.1" stroke-linecap="round" fill="none"/>
<polyline points="28.20,198.90 28.64,198.90 29.08,198.90 29.53,198.90 29.97,198.90 30.41,198.90 30.85,198.90 31.29,198.90 31.74,198.90 32.18,198.90 32.62,198.90 33.06,198.90 33.50,198.90 33.95,198.90 34.39,198.90 34.83,198.90 35.27,198.90 35.72,198.90 36.16,198.90 36.60,198.90 37.04,198.90 37.48,198.90 37.93,198.90 38.37,198.90 38.81,198.90 39.25,198.90 39.69,198.90 40.14,198.90 40.58,198.90 41.02,198.90 41.46,198.90 41.90,198.90 42.35,198.90 42.79,198.90 43.23,198.90 43.67,198.90 44.12,198.90 44.56,198.90 45.00,198.90 45.44,198.90 45.88,198.90 46.33,198.90 46.77,198.90 47.21,198.90 47.65,198.90 48.09,198.90 48.54,198.90 48.98,198.90 49.42,198.90 49.86,198.90 50.30,198.90 50.75,198.90 51.19,198.90 51.63,198.90 52.07,198.90 52.51,198.90 52.96,198.90 53.40,198.90 53.84,198.90 54.28,198.90 54.73,198.90 55.17,198.90 55.61,198.90 56.05,198.90 56.49,198.90 56.94,198.90 57.38,198.90 57.82,198.90 58.26,198.90 58.70,198.90 59.15,198.90 59.59,198.90 60.03,198.90 60.47,198.90 60.91,198.90 61.36,198.90 61.80,198.90 62.24,198.90 62.68,198.90 63.12,198.90 63.57,198.90 64.01,198.90 64.45,198.90 64.89,198.90 65.34,198.90 65.78,198.90 66.22,198.90 66.66,198.90 67.10,198.90 67.55,198.90 67.99,198.90 68.43,198.90 68.87,198.90 69.31,198.90 69.76,198.90 70.20,198.90 70.64,198.90 71.08,198.90 71.52,198.90 71.97,198.90 72.41,198.90 72.85,198.90 73.29,198.90 73.73,198.90 74.18,198.90 74.62,198.90 75.06,198.90 75.50,198.90 75.95,198.90 76.39,198.90 76.83,198.90 77.27,198.90 77.71,198.90 78.16,198.90 78.60,198.90 79.04,198.90 79.48,198.90 79.92,198.90 80.37,198.90 80.81,198.90 81.25,198.90 81.69,198.90 82.13,198.90 82.58,198.90 83.02,198.90 83.46,198.90 83.90,198.90 84.34,198.90 84.79,198.90 85.23,198.90 85.67,198.90 86.11,198.90 86.56,198.90 87.00,198.90 87.44,198.90 87.88,198.90 88.32,198.90 88.77,198.90 89.21,198.90 89.65,198.90 90.09,198.90 90.53,198.90 90.98,198.90 91.42,198.91 91.86,198.91 92.30,198.91 92.74,198.92 93.19,198.92 93.63,198.93 94.07,198.93 94.51,198.94 94.95,198.95 95.40,198.96 95.84,198.97 96.28,198.98 96.72,199.00 97.17,199.02 97.61,199.04 98.05,199.08 98.49,199.12 98.93,199.17 99.38,199.23 99.82,199.29 100.26,199.37 100.70,199.46 101.14,199.58 101.59,199.72 102.03,199.89 102.47,200.07 102.91,200.29 103.35,200.53 103.80,200.81 104.24,201.15 104.68,201.52 105.12,201.95 105.56,202.43 106.01,202.98 106.45,203.62 106.89,204.38 107.33,205.27 107.78,206.29 108.22,207.45 108.66,208.72 109.10,210.02 109.54,211.33 109.99,212.66 110.43,214.01 110.87,215.38 111.31,216.77 111.75,218.18 112.20,219.62 112.64,221.07 113.08,222.54 113.52,224.01 113.96,225.51 114.41,227.01 114.85,228.52 115.29,230.02 115.73,231.52 116.17,233.01 116.62,234.49 117.06,235.93 117.50,237.32 117.94,238.66 118.39,239.96 118.83,241.20 119.27,242.39 119.71,243.53 120.15,244.63 120.60,245.69 121.04,246.70 121.48,247.67 121.92,248.60 122.36,249.49 122.81,250.35 123.25,251.17 123.69,251.95 124.13,252.71 124.57,253.42 125.02,254.11 125.46,254.76 125.90,255.38 126.34,255.97 126.78,256.53 127.23,257.06 127.67,257.56 128.11,258.03 128.55,258.47 129.00,258.89 129.44,259.27 129.88,259.63 130.32,259.97 130.76,260.28 131.21,260.56 131.65,260.82 132.09,261.06 132.53,261.28 132.97,261.48 133.42,261.67 133.86,261.86 134.30,262.19" fill="none" stroke="#ff0000" stroke-width="1.8" stroke-linejoin="round"/>
<polyline points="134.40,290.00 134.75,289.92 135.11,289.84 135.46,289.74 135.82,289.64 136.17,289.53 136.53,289.42 136.88,289.29 137.24,289.17 137.59,289.04 137.95,288.90 138.30,288.76 138.65,288.61 139.01,288.47 139.36,288.32 139.72,288.16 140.07,288.00 140.43,287.82 140.78,287.64 141.14,287.45 141.49,287.25 141.84,287.04 142.20,286.81 142.55,286.58 142.91,286.34 143.26,286.08 143.62,285.80 143.97,285.51 144.33,285.19 144.68,284.86 145.04,284.51 145.39,284.14 145.74,283.75 146.10,283.35 146.45,282.93 146.81,282.49 147.16,282.03 147.52,281.54 147.87,281.02 148.23,280.46 148.58,279.86 148.94,279.21 149.29,278.52 149.64,277.78 150.00,276.96 150.35,276.06 150.71,275.07 151.06,273.98 151.42,272.79 151.77,271.44 152.13,269.81 152.48,268.01 152.83,266.12 153.19,264.23 153.54,262.28 153.90,260.26 154.25,258.18 154.61,256.07 154.96,253.93 155.32,251.80 155.67,249.68 156.03,247.55 156.38,245.41 156.73,243.25 157.09,241.08 157.44,238.90 157.80,236.71 158.15,234.55 158.51,232.43 158.86,230.29 159.22,228.09 159.57,225.79 159.93,223.32 160.28,220.51 160.63,217.44 160.99,214.41 161.34,211.69 161.70,209.20 162.05,206.89 162.41,204.97 162.76,203.39 163.12,202.01 163.47,200.80 163.82,199.73 164.18,198.75 164.53,197.83 164.89,196.99 165.24,196.23 165.60,195.57 165.95,195.03 166.31,194.54 166.66,194.08 167.02,193.65 167.37,193.25 167.72,192.89 168.08,192.58 168.43,192.31 168.79,192.10 169.14,191.94 169.50,191.80 169.85,191.66 170.21,191.54 170.56,191.42 170.92,191.32 171.27,191.23 171.62,191.15 171.98,191.09 172.33,191.04 172.69,191.01 173.04,190.99 173.40,190.97 173.75,190.95 174.11,190.93 174.46,190.92 174.81,190.90 175.17,190.89 175.52,190.88 175.88,190.87 176.23,190.86 176.59,190.85 176.94,190.84 177.30,190.83 177.65,190.82 178.01,190.82 178.36,190.81 178.71,190.81 179.07,190.80 179.42,190.80 179.78,190.80 180.13,190.80 180.49,190.80 180.84,190.80 181.20,190.80 181.55,190.80 181.91,190.80 182.26,190.80 182.61,190.80 182.97,190.80 183.32,190.80 183.68,190.80 184.03,190.80 184.39,190.80 184.74,190.80 185.10,190.80 185.45,190.80 185.80,190.80 186.16,190.80 186.51,190.80 186.87,190.80 187.22,190.80 187.58,190.80 187.93,190.80 188.29,190.80 188.64,190.80 189.00,190.80 189.35,190.80 189.70,190.80 190.06,190.80 190.41,190.80 190.77,190.80 191.12,190.80 191.48,190.80 191.83,190.80 192.19,190.80 192.54,190.80 192.89,190.80 193.25,190.80 193.60,190.80 193.96,190.80 194.31,190.80 194.67,190.80 195.02,190.80 195.38,190.80 195.73,190.80 196.09,190.80 196.44,190.80 196.79,190.80 197.15,190.80 197.50,190.80 197.86,190.80 198.21,190.80 198.57,190.80 198.92,190.80 199.28,190.80 199.63,190.80 199.99,190.80 200.34,190.80 200.69,190.80 201.05,190.80 201.40,190.80 201.76,190.80 202.11,190.80 202.47,190.80 202.82,190.80 203.18,190.80 203.53,190.80 203.88,190.80 204.24,190.80 204.59,190.80 204.95,190.80 205.30,190.80 205.66,190.80 206.01,190.80 206.37,190.80 206.72,190.80 207.08,190.80 207.43,190.80 207.78,190.80 208.14,190.80 208.49,190.80 208.85,190.80 209.20,190.80 209.56,190.80 209.91,190.80 210.27,190.80 210.62,190.80 210.98,190.80 211.33,190.80 211.68,190.80 212.04,190.80 212.39,190.80 212.75,190.80 213.10,190.80 213.46,190.80 213.81,190.80 214.17,190.80 214.52,190.80 214.87,190.80 215.23,190.80 215.58,190.80 215.94,190.80 216.29,190.80 216.65,190.80 217.00,190.80 217.36,190.80 217.71,190.80 218.07,190.80 218.42,190.80 218.77,190.80 219.13,190.80 219.48,190.80 219.84,190.80 220.19,190.80 220.55,190.80 220.90,190.80 221.26,190.80 221.61,190.80 221.97,190.80 222.32,190.80 222.67,190.80 223.03,190.80 223.38,190.80 223.74,190.80 224.09,190.80 224.45,190.80 224.80,190.80 225.16,190.80 225.51,190.80 225.86,190.80 226.22,190.80 226.57,190.80 226.93,190.80 227.28,190.80 227.64,190.80 227.99,190.80 228.35,190.80 228.70,190.80 229.06,190.80 229.41,190.80 229.76,190.80 230.12,190.80 230.47,190.80 230.83,190.80 231.18,190.80 231.54,190.80 231.89,190.80 232.25,190.80 232.60,190.80 232.96,190.80 233.31,190.80 233.66,190.80 234.02,190.80 234.37,190.80 234.73,190.80 235.08,190.80 235.44,190.80 235.79,190.80 236.15,190.80 236.50,190.80 236.85,190.80 237.21,190.80 237.56,190.80 237.92,190.80 238.27,190.80 238.63,190.80 238.98,190.80 239.34,190.80 239.69,190.80 240.05,190.80 240.40,190.80" fill="none" stroke="#0000ff" stroke-width="1.85" stroke-linejoin="round" clip-path="url(#cc)"/>
<path d="M28.2 293.7v-2M28.2 167.3v2M63.6 293.7v-2M63.6 167.3v2M98.9 293.7v-2M98.9 167.3v2M134.3 293.7v-2M134.3 167.3v2M169.7 293.7v-2M169.7 167.3v2M205.0 293.7v-2M205.0 167.3v2M240.4 293.7v-2M240.4 167.3v2M28.2 167.3h2M28.2 198.9h2M28.2 230.5h2M28.2 262.1h2M28.2 293.7h2" stroke="#969696" stroke-width="1" fill="none"/>
<path d="M240.4 293.7h-2M240.4 262.1h-2M240.4 230.5h-2M240.4 198.9h-2M240.4 167.3h-2" stroke="#9c9cff" stroke-width="1" fill="none"/>
<text x="24.9" y="170.7" text-anchor="end" font-size="8.3" letter-spacing="-0.5" fill="#262626" stroke="#262626" stroke-width="0.15">0.2</text>
<text x="24.9" y="202.3" text-anchor="end" font-size="8.3" letter-spacing="-0.5" fill="#262626" stroke="#262626" stroke-width="0.15">0</text>
<text x="24.9" y="233.9" text-anchor="end" font-size="8.3" letter-spacing="-0.5" fill="#262626" stroke="#262626" stroke-width="0.15">-0.2</text>
<text x="24.9" y="265.5" text-anchor="end" font-size="8.3" letter-spacing="-0.5" fill="#262626" stroke="#262626" stroke-width="0.15">-0.4</text>
<text x="24.9" y="297.1" text-anchor="end" font-size="8.3" letter-spacing="-0.5" fill="#262626" stroke="#262626" stroke-width="0.15">-0.6</text>
<text x="28.6" y="305.0" text-anchor="middle" font-size="8.3" letter-spacing="-0.4" fill="#262626" stroke="#262626" stroke-width="0.15">-6</text>
<text x="64.0" y="305.0" text-anchor="middle" font-size="8.3" letter-spacing="-0.4" fill="#262626" stroke="#262626" stroke-width="0.15">-4</text>
<text x="99.3" y="305.0" text-anchor="middle" font-size="8.3" letter-spacing="-0.4" fill="#262626" stroke="#262626" stroke-width="0.15">-2</text>
<text x="134.5" y="305.0" text-anchor="middle" font-size="8.3" fill="#262626" stroke="#262626" stroke-width="0.15">0</text>
<text x="169.9" y="305.0" text-anchor="middle" font-size="8.3" fill="#262626" stroke="#262626" stroke-width="0.15">2</text>
<text x="205.2" y="305.0" text-anchor="middle" font-size="8.3" fill="#262626" stroke="#262626" stroke-width="0.15">4</text>
<text x="240.6" y="305.0" text-anchor="middle" font-size="8.3" fill="#262626" stroke="#262626" stroke-width="0.15">6</text>
<text x="243.3" y="296.9" font-size="8.3" fill="#2020ff" stroke="#2020ff" stroke-width="0.25">0</text>
<text x="243.3" y="265.3" font-size="8.3" fill="#2020ff" stroke="#2020ff" stroke-width="0.25">1</text>
<text x="243.3" y="233.7" font-size="8.3" fill="#2020ff" stroke="#2020ff" stroke-width="0.25">2</text>
<text x="243.3" y="202.1" font-size="8.3" fill="#2020ff" stroke="#2020ff" stroke-width="0.25">3</text>
<text x="243.3" y="170.5" font-size="8.3" fill="#2020ff" stroke="#2020ff" stroke-width="0.25">4</text>
<text x="240.6" y="164.2" font-size="9.5" fill="#2020ff">×</text>
<text x="246.9" y="163.4" font-size="7.4" stroke="#2020ff" stroke-width="0.2" fill="#2020ff">10</text>
<text x="254.7" y="159.9" font-size="7" stroke="#2020ff" stroke-width="0.2" fill="#2020ff">-5</text>
<text transform="translate(7.8,230.1) rotate(-90)" text-anchor="middle" font-size="8.6" fill="#262626" stroke="#262626" stroke-width="0.25">Phase Delay (rad)</text>
<text transform="translate(258.2,231.1) rotate(-90)" text-anchor="middle" font-size="8.1" fill="#2020ff" stroke="#2020ff" stroke-width="0.35">n-1</text>
<text x="234.8" y="178.5" text-anchor="end" font-size="10.3" fill="#262626" stroke="#262626" stroke-width="0.25">(c)</text>
<rect x="171.4" y="248.7" width="63.6" height="39.0" fill="#fff" stroke="#9a9a9a" stroke-width="1"/>
<path d="M171.4 259.1H235.0" stroke="#9a9a9a" stroke-width="1"/>
<text x="204.0" y="256.9" text-anchor="middle" font-size="7.5" font-weight="bold" fill="#000">TD = 50 µs</text>
<circle cx="185.0" cy="264.7" r="1" fill="#000"/>
<path d="M173.6 273.3h23" stroke="#ff0000" stroke-width="1.9"/>
<path d="M173.6 282.3h23" stroke="#0000ff" stroke-width="1.9"/>
<text x="198.5" y="267.5" font-size="6.9" fill="#262626" stroke="#262626" stroke-width="0.12">ΔΦ (Exp.)</text>
<text x="198.5" y="276.2" font-size="6.9" fill="#262626" stroke="#262626" stroke-width="0.12">ΔΦ (Fitted)</text>
<text x="198.5" y="284.9" font-size="6.9" fill="#262626" stroke="#262626" stroke-width="0.12">n-1 (Fitted)</text>
<clipPath id="cd"><rect x="299.4" y="167.3" width="212.70000000000005" height="126.39999999999998"/></clipPath>
<path d="M298.5 167V294M300 168.5H512.1M300 292.5H512.1" stroke="#e6e6e6" stroke-width="1" fill="none" shape-rendering="crispEdges"/>
<path d="M299 167.5H512.1" stroke="#aaaaaa" stroke-width="1" fill="none" shape-rendering="crispEdges"/>
<path d="M299.5 167V294M299 293.5H512.1" stroke="#969696" stroke-width="1" fill="none" shape-rendering="crispEdges"/>
<path d="M513.5 167.3V293.7" stroke="#d4d4ff" stroke-width="1" fill="none" shape-rendering="crispEdges"/>
<path d="M512.5 167.3V293.7" stroke="#9c9cff" stroke-width="1" fill="none" shape-rendering="crispEdges"/>
<path d="M302.0 170.2h0M304.6 172.3h0M303.1 180.4h0M300.5 183.0h0M301.0 187.3h0M303.6 196.9h0M305.6 189.5h0M306.9 189.5h0M306.1 192.8h0M307.6 193.6h0M308.3 183.0h0M310.1 183.4h0M311.2 184.2h0M313.2 185.2h0M309.1 188.5h0M311.7 194.4h0M312.7 191.1h0M314.2 188.8h0M315.0 191.3h0M315.7 177.3h0M317.2 169.2h0M319.1 174.1h0M318.1 182.2h0M320.3 191.1h0M321.3 180.4h0M322.8 183.4h0M323.8 186.8h0M322.1 196.2h0M319.8 199.9h0M324.8 192.8h0M325.6 180.4h0M326.4 194.2h0M327.4 199.6h0M328.9 202.3h0M329.9 191.5h0M331.2 194.6h0M332.4 186.1h0M333.9 207.3h0M334.7 202.3h0M335.5 191.8h0M337.0 196.9h0M336.5 198.4h0M338.5 208.5h0M339.0 211.1h0M340.3 202.3h0M341.4 194.6h0M342.1 185.0h0M343.6 199.9h0M345.1 194.6h0M346.1 193.8h0M347.6 185.2h0M348.4 192.8h0M348.9 197.2h0M346.6 207.0h0M349.7 187.3h0M350.7 200.6h0M351.5 185.4h0M352.2 199.4h0M353.5 187.8h0M354.0 191.8h0M357.1 197.4h0M357.6 201.4h0M359.1 203.5h0M360.1 205.3h0M354.8 206.0h0M361.1 193.6h0M362.6 191.1h0M365.2 192.1h0M366.2 193.6h0M364.6 196.9h0M367.2 196.9h0M368.2 197.6h0M369.2 196.4h0M366.7 199.9h0M370.4 196.9h0M371.0 205.5h0M372.2 199.2h0M373.3 197.4h0M373.8 193.8h0M374.8 199.9h0M375.8 197.4h0M377.1 194.2h0M378.1 196.4h0M379.1 197.9h0M379.9 200.4h0M380.4 199.2h0M364.4 210.1h0M376.1 207.5h0M382.4 208.0h0M383.9 215.3h0M381.9 220.1h0M382.7 221.6h0M386.6 225.6h0M385.9 229.6h0M388.2 239.1h0M390.6 240.7h0M393.0 240.2h0M397.7 242.2h0M396.1 249.1h0M402.5 249.4h0M404.9 247.8h0M395.4 254.9h0M399.3 256.5h0M394.6 258.9h0M403.3 259.7h0M400.1 261.3h0M404.1 262.8h0M393.8 264.9h0M400.9 266.0h0M401.7 268.4h0M405.7 270.3h0M328.2 213.0h0M333.0 213.0h0" stroke="#000" stroke-width="2.1" stroke-linecap="round" fill="none"/>
<polyline points="299.40,198.90 299.84,198.90 300.29,198.90 300.73,198.90 301.17,198.90 301.62,198.90 302.06,198.90 302.50,198.90 302.94,198.90 303.39,198.90 303.83,198.90 304.27,198.90 304.72,198.90 305.16,198.90 305.60,198.90 306.05,198.90 306.49,198.90 306.93,198.90 307.38,198.90 307.82,198.90 308.26,198.90 308.71,198.90 309.15,198.90 309.59,198.90 310.03,198.90 310.48,198.90 310.92,198.90 311.36,198.90 311.81,198.90 312.25,198.90 312.69,198.90 313.14,198.90 313.58,198.90 314.02,198.90 314.47,198.90 314.91,198.90 315.35,198.90 315.80,198.90 316.24,198.90 316.68,198.90 317.12,198.90 317.57,198.90 318.01,198.90 318.45,198.90 318.90,198.90 319.34,198.90 319.78,198.90 320.23,198.90 320.67,198.90 321.11,198.90 321.56,198.90 322.00,198.90 322.44,198.90 322.89,198.90 323.33,198.90 323.77,198.90 324.21,198.90 324.66,198.90 325.10,198.90 325.54,198.90 325.99,198.90 326.43,198.90 326.87,198.90 327.32,198.90 327.76,198.90 328.20,198.90 328.65,198.90 329.09,198.90 329.53,198.90 329.98,198.90 330.42,198.90 330.86,198.90 331.31,198.90 331.75,198.90 332.19,198.90 332.63,198.90 333.08,198.90 333.52,198.90 333.96,198.90 334.41,198.90 334.85,198.90 335.29,198.90 335.74,198.90 336.18,198.90 336.62,198.90 337.07,198.90 337.51,198.90 337.95,198.90 338.39,198.90 338.84,198.90 339.28,198.90 339.72,198.90 340.17,198.90 340.61,198.90 341.05,198.90 341.50,198.90 341.94,198.90 342.38,198.90 342.83,198.90 343.27,198.90 343.71,198.90 344.16,198.90 344.60,198.90 345.04,198.90 345.49,198.90 345.93,198.90 346.37,198.90 346.81,198.90 347.26,198.90 347.70,198.90 348.14,198.90 348.59,198.90 349.03,198.90 349.47,198.90 349.92,198.90 350.36,198.90 350.80,198.90 351.25,198.90 351.69,198.90 352.13,198.90 352.57,198.90 353.02,198.90 353.46,198.90 353.90,198.90 354.35,198.90 354.79,198.90 355.23,198.90 355.68,198.90 356.12,198.90 356.56,198.90 357.01,198.90 357.45,198.90 357.89,198.90 358.34,198.90 358.78,198.90 359.22,198.90 359.67,198.90 360.11,198.90 360.55,198.90 360.99,198.90 361.44,198.91 361.88,198.91 362.32,198.92 362.77,198.93 363.21,198.93 363.65,198.95 364.10,198.96 364.54,198.97 364.98,198.99 365.43,199.01 365.87,199.03 366.31,199.05 366.75,199.08 367.20,199.11 367.64,199.15 368.08,199.20 368.53,199.26 368.97,199.34 369.41,199.42 369.86,199.51 370.30,199.60 370.74,199.71 371.19,199.83 371.63,199.97 372.07,200.12 372.52,200.29 372.96,200.49 373.40,200.70 373.85,200.93 374.29,201.19 374.73,201.48 375.17,201.80 375.62,202.16 376.06,202.55 376.50,202.98 376.95,203.46 377.39,203.99 377.83,204.58 378.28,205.23 378.72,205.96 379.16,206.78 379.61,207.71 380.05,208.79 380.49,210.06 380.94,211.39 381.38,212.70 381.82,213.99 382.26,215.26 382.71,216.52 383.15,217.78 383.59,219.04 384.04,220.29 384.48,221.53 384.92,222.77 385.37,224.03 385.81,225.28 386.25,226.55 386.70,227.82 387.14,229.08 387.58,230.35 388.02,231.60 388.47,232.83 388.91,234.06 389.35,235.28 389.80,236.47 390.24,237.65 390.68,238.79 391.13,239.91 391.57,240.99 392.01,242.03 392.46,243.04 392.90,244.02 393.34,244.96 393.79,245.86 394.23,246.74 394.67,247.57 395.12,248.37 395.56,249.14 396.00,249.87 396.44,250.57 396.89,251.23 397.33,251.87 397.77,252.47 398.22,253.04 398.66,253.59 399.10,254.10 399.55,254.58 399.99,255.04 400.43,255.47 400.88,255.87 401.32,256.24 401.76,256.59 402.21,256.90 402.65,257.19 403.09,257.46 403.53,257.70 403.98,257.92 404.42,258.13 404.86,258.32 405.31,258.51 405.75,258.82" fill="none" stroke="#ff0000" stroke-width="1.8" stroke-linejoin="round"/>
<polyline points="405.80,285.80 406.16,285.73 406.51,285.64 406.87,285.54 407.22,285.43 407.58,285.30 407.93,285.17 408.29,285.03 408.64,284.88 409.00,284.72 409.36,284.56 409.71,284.39 410.07,284.22 410.42,284.03 410.78,283.82 411.13,283.60 411.49,283.36 411.84,283.11 412.20,282.84 412.55,282.57 412.91,282.28 413.27,281.98 413.62,281.68 413.98,281.37 414.33,281.03 414.69,280.68 415.04,280.31 415.40,279.92 415.75,279.51 416.11,279.08 416.47,278.62 416.82,278.13 417.18,277.60 417.53,277.02 417.89,276.40 418.24,275.75 418.60,275.05 418.95,274.32 419.31,273.56 419.67,272.74 420.02,271.86 420.38,270.91 420.73,269.90 421.09,268.82 421.44,267.65 421.80,266.40 422.15,265.08 422.51,263.71 422.86,262.30 423.22,260.86 423.58,259.41 423.93,257.94 424.29,256.42 424.64,254.84 425.00,253.23 425.35,251.60 425.71,249.96 426.06,248.32 426.42,246.71 426.78,245.12 427.13,243.58 427.49,242.06 427.84,240.53 428.20,238.98 428.55,237.39 428.91,235.74 429.26,234.04 429.62,232.36 429.98,230.61 430.33,228.70 430.69,226.55 431.04,223.88 431.40,220.46 431.75,217.13 432.11,214.59 432.46,212.37 432.82,210.37 433.17,208.60 433.53,207.05 433.89,205.65 434.24,204.36 434.60,203.19 434.95,202.13 435.31,201.18 435.66,200.31 436.02,199.49 436.37,198.73 436.73,198.01 437.09,197.36 437.44,196.77 437.80,196.24 438.15,195.77 438.51,195.32 438.86,194.90 439.22,194.50 439.57,194.13 439.93,193.80 440.29,193.50 440.64,193.23 441.00,193.00 441.35,192.80 441.71,192.60 442.06,192.40 442.42,192.22 442.77,192.05 443.13,191.88 443.48,191.74 443.84,191.60 444.20,191.48 444.55,191.38 444.91,191.30 445.26,191.23 445.62,191.19 445.97,191.15 446.33,191.11 446.68,191.08 447.04,191.04 447.40,191.01 447.75,190.98 448.11,190.95 448.46,190.93 448.82,190.90 449.17,190.88 449.53,190.86 449.88,190.85 450.24,190.83 450.60,190.82 450.95,190.81 451.31,190.81 451.66,190.80 452.02,190.80 452.37,190.80 452.73,190.80 453.08,190.80 453.44,190.80 453.79,190.80 454.15,190.80 454.51,190.80 454.86,190.80 455.22,190.80 455.57,190.80 455.93,190.80 456.28,190.80 456.64,190.80 456.99,190.80 457.35,190.80 457.71,190.80 458.06,190.80 458.42,190.80 458.77,190.80 459.13,190.80 459.48,190.80 459.84,190.80 460.19,190.80 460.55,190.80 460.91,190.80 461.26,190.80 461.62,190.80 461.97,190.80 462.33,190.80 462.68,190.80 463.04,190.80 463.39,190.80 463.75,190.80 464.11,190.80 464.46,190.80 464.82,190.80 465.17,190.80 465.53,190.80 465.88,190.80 466.24,190.80 466.59,190.80 466.95,190.80 467.30,190.80 467.66,190.80 468.02,190.80 468.37,190.80 468.73,190.80 469.08,190.80 469.44,190.80 469.79,190.80 470.15,190.80 470.50,190.80 470.86,190.80 471.22,190.80 471.57,190.80 471.93,190.80 472.28,190.80 472.64,190.80 472.99,190.80 473.35,190.80 473.70,190.80 474.06,190.80 474.42,190.80 474.77,190.80 475.13,190.80 475.48,190.80 475.84,190.80 476.19,190.80 476.55,190.80 476.90,190.80 477.26,190.80 477.61,190.80 477.97,190.80 478.33,190.80 478.68,190.80 479.04,190.80 479.39,190.80 479.75,190.80 480.10,190.80 480.46,190.80 480.81,190.80 481.17,190.80 481.53,190.80 481.88,190.80 482.24,190.80 482.59,190.80 482.95,190.80 483.30,190.80 483.66,190.80 484.01,190.80 484.37,190.80 484.73,190.80 485.08,190.80 485.44,190.80 485.79,190.80 486.15,190.80 486.50,190.80 486.86,190.80 487.21,190.80 487.57,190.80 487.92,190.80 488.28,190.80 488.64,190.80 488.99,190.80 489.35,190.80 489.70,190.80 490.06,190.80 490.41,190.80 490.77,190.80 491.12,190.80 491.48,190.80 491.84,190.80 492.19,190.80 492.55,190.80 492.90,190.80 493.26,190.80 493.61,190.80 493.97,190.80 494.32,190.80 494.68,190.80 495.04,190.80 495.39,190.80 495.75,190.80 496.10,190.80 496.46,190.80 496.81,190.80 497.17,190.80 497.52,190.80 497.88,190.80 498.23,190.80 498.59,190.80 498.95,190.80 499.30,190.80 499.66,190.80 500.01,190.80 500.37,190.80 500.72,190.80 501.08,190.80 501.43,190.80 501.79,190.80 502.15,190.80 502.50,190.80 502.86,190.80 503.21,190.80 503.57,190.80 503.92,190.80 504.28,190.80 504.63,190.80 504.99,190.80 505.35,190.80 505.70,190.80 506.06,190.80 506.41,190.80 506.77,190.80 507.12,190.80 507.48,190.80 507.83,190.80 508.19,190.80 508.54,190.80 508.90,190.80 509.26,190.80 509.61,190.80 509.97,190.80 510.32,190.80 510.68,190.80 511.03,190.80 511.39,190.80 511.74,190.80 512.10,190.80" fill="none" stroke="#0000ff" stroke-width="1.85" stroke-linejoin="round" clip-path="url(#cd)"/>
<path d="M299.4 293.7v-2M299.4 167.3v2M334.8 293.7v-2M334.8 167.3v2M370.3 293.7v-2M370.3 167.3v2M405.8 293.7v-2M405.8 167.3v2M441.2 293.7v-2M441.2 167.3v2M476.7 293.7v-2M476.7 167.3v2M512.1 293.7v-2M512.1 167.3v2M299.4 167.3h2M299.4 198.9h2M299.4 230.5h2M299.4 262.1h2M299.4 293.7h2" stroke="#969696" stroke-width="1" fill="none"/>
<path d="M512.1 293.7h-2M512.1 262.1h-2M512.1 230.5h-2M512.1 198.9h-2M512.1 167.3h-2" stroke="#9c9cff" stroke-width="1" fill="none"/>
<text x="296.1" y="170.7" text-anchor="end" font-size="8.3" letter-spacing="-0.5" fill="#262626" stroke="#262626" stroke-width="0.15">0.2</text>
<text x="296.1" y="202.3" text-anchor="end" font-size="8.3" letter-spacing="-0.5" fill="#262626" stroke="#262626" stroke-width="0.15">0</text>
<text x="296.1" y="233.9" text-anchor="end" font-size="8.3" letter-spacing="-0.5" fill="#262626" stroke="#262626" stroke-width="0.15">-0.2</text>
<text x="296.1" y="265.5" text-anchor="end" font-size="8.3" letter-spacing="-0.5" fill="#262626" stroke="#262626" stroke-width="0.15">-0.4</text>
<text x="296.1" y="297.1" text-anchor="end" font-size="8.3" letter-spacing="-0.5" fill="#262626" stroke="#262626" stroke-width="0.15">-0.6</text>
<text x="299.8" y="305.0" text-anchor="middle" font-size="8.3" letter-spacing="-0.4" fill="#262626" stroke="#262626" stroke-width="0.15">-6</text>
<text x="335.2" y="305.0" text-anchor="middle" font-size="8.3" letter-spacing="-0.4" fill="#262626" stroke="#262626" stroke-width="0.15">-4</text>
<text x="370.7" y="305.0" text-anchor="middle" font-size="8.3" letter-spacing="-0.4" fill="#262626" stroke="#262626" stroke-width="0.15">-2</text>
<text x="405.9" y="305.0" text-anchor="middle" font-size="8.3" fill="#262626" stroke="#262626" stroke-width="0.15">0</text>
<text x="441.4" y="305.0" text-anchor="middle" font-size="8.3" fill="#262626" stroke="#262626" stroke-width="0.15">2</text>
<text x="476.9" y="305.0" text-anchor="middle" font-size="8.3" fill="#262626" stroke="#262626" stroke-width="0.15">4</text>
<text x="512.3" y="305.0" text-anchor="middle" font-size="8.3" fill="#262626" stroke="#262626" stroke-width="0.15">6</text>
<text x="515.0" y="296.9" font-size="8.3" fill="#2020ff" stroke="#2020ff" stroke-width="0.25">0</text>
<text x="515.0" y="265.3" font-size="8.3" fill="#2020ff" stroke="#2020ff" stroke-width="0.25">1</text>
<text x="515.0" y="233.7" font-size="8.3" fill="#2020ff" stroke="#2020ff" stroke-width="0.25">2</text>
<text x="515.0" y="202.1" font-size="8.3" fill="#2020ff" stroke="#2020ff" stroke-width="0.25">3</text>
<text x="515.0" y="170.5" font-size="8.3" fill="#2020ff" stroke="#2020ff" stroke-width="0.25">4</text>
<text x="512.3" y="164.2" font-size="9.5" fill="#2020ff">×</text>
<text x="518.6" y="163.4" font-size="7.4" stroke="#2020ff" stroke-width="0.2" fill="#2020ff">10</text>
<text x="526.4" y="159.9" font-size="7" stroke="#2020ff" stroke-width="0.2" fill="#2020ff">-5</text>
<text transform="translate(279.0,230.1) rotate(-90)" text-anchor="middle" font-size="8.6" fill="#262626" stroke="#262626" stroke-width="0.25">Phase Delay (rad)</text>
<text transform="translate(529.9,231.1) rotate(-90)" text-anchor="middle" font-size="8.1" fill="#2020ff" stroke="#2020ff" stroke-width="0.35">n-1</text>
<text x="507.4" y="178.5" text-anchor="end" font-size="10.3" fill="#262626" stroke="#262626" stroke-width="0.25">(d)</text>
<rect x="443.1" y="248.7" width="63.6" height="39.0" fill="#fff" stroke="#9a9a9a" stroke-width="1"/>
<path d="M443.1 259.1H506.7" stroke="#9a9a9a" stroke-width="1"/>
<text x="475.7" y="256.9" text-anchor="middle" font-size="7.5" font-weight="bold" fill="#000">TD = 100 µs</text>
<circle cx="456.7" cy="264.7" r="1" fill="#000"/>
<path d="M445.3 273.3h23" stroke="#ff0000" stroke-width="1.9"/>
<path d="M445.3 282.3h23" stroke="#0000ff" stroke-width="1.9"/>
<text x="470.2" y="267.5" font-size="6.9" fill="#262626" stroke="#262626" stroke-width="0.12">ΔΦ (Exp.)</text>
<text x="470.2" y="276.2" font-size="6.9" fill="#262626" stroke="#262626" stroke-width="0.12">ΔΦ (Fitted)</text>
<text x="470.2" y="284.9" font-size="6.9" fill="#262626" stroke="#262626" stroke-width="0.12">n-1 (Fitted)</text>
<clipPath id="ce"><rect x="28.2" y="321.4" width="212.20000000000002" height="126.60000000000002"/></clipPath>
<path d="M27.5 321V449M29 322.5H240.4M29 447.5H240.4" stroke="#e6e6e6" stroke-width="1" fill="none" shape-rendering="crispEdges"/>
<path d="M28 321.5H240.4" stroke="#aaaaaa" stroke-width="1" fill="none" shape-rendering="crispEdges"/>
<path d="M28.5 321V449M28 448.5H240.4" stroke="#969696" stroke-width="1" fill="none" shape-rendering="crispEdges"/>
<path d="M241.5 321.4V448.0" stroke="#d4d4ff" stroke-width="1" fill="none" shape-rendering="crispEdges"/>
<path d="M240.5 321.4V448.0" stroke="#9c9cff" stroke-width="1" fill="none" shape-rendering="crispEdges"/>
<path d="M28.5 327.1h0M29.5 334.4h0M30.8 335.7h0M32.6 337.0h0M31.9 341.8h0M33.6 343.8h0M34.9 344.5h0M34.1 334.4h0M35.6 335.0h0M36.6 337.4h0M38.1 335.7h0M40.0 333.4h0M37.3 324.2h0M38.9 322.8h0M41.2 343.5h0M42.2 350.9h0M43.0 337.0h0M44.0 338.2h0M45.2 337.2h0M46.0 339.0h0M44.4 342.8h0M47.0 331.9h0M47.8 334.4h0M49.1 333.4h0M50.1 331.9h0M51.8 335.0h0M52.3 339.0h0M54.1 330.9h0M48.8 342.8h0M53.3 345.5h0M55.4 346.5h0M56.4 345.5h0M54.9 354.9h0M57.4 360.0h0M58.4 351.9h0M58.9 353.9h0M60.2 363.4h0M60.9 350.4h0M61.9 347.9h0M63.0 357.5h0M64.3 360.3h0M65.0 355.9h0M63.7 364.1h0M66.0 352.2h0M67.0 361.0h0M67.5 338.0h0M68.5 356.7h0M69.3 357.7h0M70.0 345.1h0M71.1 365.6h0M71.8 348.1h0M72.6 357.5h0M73.1 344.1h0M74.1 350.2h0M75.6 355.9h0M76.4 353.4h0M77.1 351.9h0M77.8 351.2h0M79.2 355.9h0M80.2 350.4h0M80.9 346.3h0M82.5 341.8h0M82.5 348.1h0M85.8 339.0h0M88.9 340.8h0M87.6 343.8h0M84.8 350.6h0M86.9 353.9h0M88.6 349.9h0M90.1 349.4h0M91.1 346.8h0M91.6 349.2h0M84.2 359.0h0M92.1 359.0h0M94.0 360.5h0M94.7 348.6h0M96.2 350.9h0M97.2 359.5h0M98.2 360.0h0M98.7 347.6h0M100.7 346.3h0M100.0 353.2h0M99.4 354.6h0M102.8 355.9h0M103.3 359.0h0M105.5 362.5h0M109.9 353.9h0M111.4 363.8h0M110.5 367.9h0M101.7 371.1h0M105.8 370.3h0M107.7 371.9h0M108.0 381.9h0M112.4 379.0h0M114.0 384.1h0M117.5 388.8h0M118.5 393.3h0M115.9 394.1h0M113.7 396.8h0M115.6 397.7h0M122.7 402.0h0M124.8 401.5h0M120.0 406.0h0M122.3 406.3h0M126.7 408.3h0M133.3 408.8h0M121.2 413.1h0M124.3 413.9h0M125.9 415.8h0M133.0 417.8h0M127.5 418.9h0M129.9 423.4h0M134.3 422.6h0M130.7 425.3h0M131.8 429.4h0M60.4 366.7h0M93.1 367.1h0" stroke="#000" stroke-width="2.1" stroke-linecap="round" fill="none"/>
<polyline points="28.20,353.05 28.64,353.05 29.08,353.05 29.53,353.05 29.97,353.05 30.41,353.05 30.85,353.05 31.29,353.05 31.74,353.05 32.18,353.05 32.62,353.05 33.06,353.05 33.50,353.05 33.95,353.05 34.39,353.05 34.83,353.05 35.27,353.05 35.72,353.05 36.16,353.05 36.60,353.05 37.04,353.05 37.48,353.05 37.93,353.05 38.37,353.05 38.81,353.05 39.25,353.05 39.69,353.05 40.14,353.05 40.58,353.05 41.02,353.05 41.46,353.05 41.90,353.05 42.35,353.05 42.79,353.05 43.23,353.05 43.67,353.05 44.12,353.05 44.56,353.05 45.00,353.05 45.44,353.05 45.88,353.05 46.33,353.05 46.77,353.05 47.21,353.05 47.65,353.05 48.09,353.05 48.54,353.05 48.98,353.05 49.42,353.05 49.86,353.05 50.30,353.05 50.75,353.05 51.19,353.05 51.63,353.05 52.07,353.05 52.51,353.05 52.96,353.05 53.40,353.05 53.84,353.05 54.28,353.05 54.73,353.05 55.17,353.05 55.61,353.05 56.05,353.05 56.49,353.05 56.94,353.05 57.38,353.05 57.82,353.05 58.26,353.05 58.70,353.05 59.15,353.05 59.59,353.05 60.03,353.05 60.47,353.05 60.91,353.05 61.36,353.05 61.80,353.05 62.24,353.05 62.68,353.05 63.12,353.05 63.57,353.05 64.01,353.05 64.45,353.05 64.89,353.05 65.34,353.05 65.78,353.05 66.22,353.05 66.66,353.05 67.10,353.05 67.55,353.05 67.99,353.05 68.43,353.05 68.87,353.05 69.31,353.05 69.76,353.05 70.20,353.05 70.64,353.05 71.08,353.05 71.52,353.05 71.97,353.05 72.41,353.05 72.85,353.05 73.29,353.05 73.73,353.05 74.18,353.05 74.62,353.05 75.06,353.05 75.50,353.05 75.95,353.05 76.39,353.05 76.83,353.05 77.27,353.06 77.71,353.06 78.16,353.06 78.60,353.06 79.04,353.07 79.48,353.07 79.92,353.08 80.37,353.08 80.81,353.08 81.25,353.09 81.69,353.09 82.13,353.10 82.58,353.11 83.02,353.12 83.46,353.12 83.90,353.13 84.34,353.15 84.79,353.16 85.23,353.17 85.67,353.19 86.11,353.21 86.56,353.23 87.00,353.25 87.44,353.28 87.88,353.30 88.32,353.33 88.77,353.36 89.21,353.40 89.65,353.45 90.09,353.50 90.53,353.57 90.98,353.64 91.42,353.72 91.86,353.81 92.30,353.91 92.74,354.03 93.19,354.14 93.63,354.27 94.07,354.41 94.51,354.57 94.95,354.74 95.40,354.92 95.84,355.13 96.28,355.35 96.72,355.59 97.17,355.85 97.61,356.12 98.05,356.42 98.49,356.75 98.93,357.10 99.38,357.48 99.82,357.89 100.26,358.34 100.70,358.81 101.14,359.31 101.59,359.85 102.03,360.41 102.47,361.01 102.91,361.64 103.35,362.32 103.80,363.03 104.24,363.78 104.68,364.57 105.12,365.42 105.56,366.33 106.01,367.28 106.45,368.27 106.89,369.29 107.33,370.33 107.78,371.38 108.22,372.44 108.66,373.51 109.10,374.59 109.54,375.68 109.99,376.79 110.43,377.91 110.87,379.04 111.31,380.17 111.75,381.32 112.20,382.48 112.64,383.64 113.08,384.80 113.52,385.96 113.96,387.13 114.41,388.29 114.85,389.45 115.29,390.58 115.73,391.69 116.17,392.77 116.62,393.83 117.06,394.86 117.50,395.87 117.94,396.84 118.39,397.80 118.83,398.72 119.27,399.63 119.71,400.50 120.15,401.35 120.60,402.17 121.04,402.97 121.48,403.74 121.92,404.48 122.36,405.20 122.81,405.89 123.25,406.56 123.69,407.20 124.13,407.82 124.57,408.41 125.02,408.98 125.46,409.52 125.90,410.03 126.34,410.52 126.78,410.99 127.23,411.43 127.67,411.85 128.11,412.25 128.55,412.63 129.00,412.98 129.44,413.31 129.88,413.61 130.32,413.90 130.76,414.16 131.21,414.41 131.65,414.63 132.09,414.84 132.53,415.03 132.97,415.20 133.42,415.37 133.86,415.54 134.30,415.83" fill="none" stroke="#ff0000" stroke-width="1.8" stroke-linejoin="round"/>
<polyline points="134.40,433.60 134.75,433.52 135.11,433.43 135.46,433.34 135.82,433.23 136.17,433.12 136.53,433.00 136.88,432.87 137.24,432.73 137.59,432.59 137.95,432.45 138.30,432.29 138.65,432.14 139.01,431.98 139.36,431.81 139.72,431.64 140.07,431.47 140.43,431.28 140.78,431.08 141.14,430.87 141.49,430.65 141.84,430.42 142.20,430.18 142.55,429.93 142.91,429.67 143.26,429.40 143.62,429.12 143.97,428.82 144.33,428.51 144.68,428.18 145.04,427.82 145.39,427.45 145.74,427.05 146.10,426.63 146.45,426.20 146.81,425.75 147.16,425.28 147.52,424.80 147.87,424.30 148.23,423.78 148.58,423.22 148.94,422.64 149.29,422.03 149.64,421.39 150.00,420.72 150.35,420.03 150.71,419.31 151.06,418.57 151.42,417.79 151.77,416.97 152.13,416.10 152.48,415.19 152.83,414.23 153.19,413.23 153.54,412.17 153.90,411.00 154.25,409.73 154.61,408.38 154.96,407.00 155.32,405.62 155.67,404.25 156.03,402.84 156.38,401.42 156.73,399.98 157.09,398.55 157.44,397.13 157.80,395.71 158.15,394.29 158.51,392.87 158.86,391.45 159.22,390.04 159.57,388.63 159.93,387.23 160.28,385.83 160.63,384.43 160.99,383.02 161.34,381.59 161.70,380.13 162.05,378.62 162.41,377.02 162.76,375.38 163.12,373.73 163.47,372.11 163.82,370.57 164.18,369.15 164.53,367.85 164.89,366.60 165.24,365.40 165.60,364.24 165.95,363.13 166.31,362.07 166.66,361.07 167.02,360.12 167.37,359.23 167.72,358.37 168.08,357.54 168.43,356.72 168.79,355.94 169.14,355.19 169.50,354.48 169.85,353.80 170.21,353.17 170.56,352.59 170.92,352.06 171.27,351.57 171.62,351.12 171.98,350.67 172.33,350.25 172.69,349.85 173.04,349.47 173.40,349.11 173.75,348.77 174.11,348.46 174.46,348.17 174.81,347.91 175.17,347.68 175.52,347.47 175.88,347.26 176.23,347.06 176.59,346.87 176.94,346.69 177.30,346.51 177.65,346.35 178.01,346.19 178.36,346.05 178.71,345.91 179.07,345.80 179.42,345.70 179.78,345.61 180.13,345.54 180.49,345.49 180.84,345.44 181.20,345.40 181.55,345.36 181.91,345.32 182.26,345.29 182.61,345.25 182.97,345.22 183.32,345.19 183.68,345.16 184.03,345.14 184.39,345.12 184.74,345.09 185.10,345.07 185.45,345.06 185.80,345.04 186.16,345.03 186.51,345.02 186.87,345.01 187.22,345.00 187.58,344.99 187.93,344.98 188.29,344.97 188.64,344.97 189.00,344.96 189.35,344.95 189.70,344.95 190.06,344.94 190.41,344.94 190.77,344.93 191.12,344.93 191.48,344.92 191.83,344.92 192.19,344.91 192.54,344.91 192.89,344.91 193.25,344.91 193.60,344.90 193.96,344.90 194.31,344.90 194.67,344.90 195.02,344.90 195.38,344.90 195.73,344.90 196.09,344.90 196.44,344.90 196.79,344.90 197.15,344.90 197.50,344.90 197.86,344.90 198.21,344.90 198.57,344.90 198.92,344.90 199.28,344.90 199.63,344.90 199.99,344.90 200.34,344.90 200.69,344.90 201.05,344.90 201.40,344.90 201.76,344.90 202.11,344.90 202.47,344.90 202.82,344.90 203.18,344.90 203.53,344.90 203.88,344.90 204.24,344.90 204.59,344.90 204.95,344.90 205.30,344.90 205.66,344.90 206.01,344.90 206.37,344.90 206.72,344.90 207.08,344.90 207.43,344.90 207.78,344.90 208.14,344.90 208.49,344.90 208.85,344.90 209.20,344.90 209.56,344.90 209.91,344.90 210.27,344.90 210.62,344.90 210.98,344.90 211.33,344.90 211.68,344.90 212.04,344.90 212.39,344.90 212.75,344.90 213.10,344.90 213.46,344.90 213.81,344.90 214.17,344.90 214.52,344.90 214.87,344.90 215.23,344.90 215.58,344.90 215.94,344.90 216.29,344.90 216.65,344.90 217.00,344.90 217.36,344.90 217.71,344.90 218.07,344.90 218.42,344.90 218.77,344.90 219.13,344.90 219.48,344.90 219.84,344.90 220.19,344.90 220.55,344.90 220.90,344.90 221.26,344.90 221.61,344.90 221.97,344.90 222.32,344.90 222.67,344.90 223.03,344.90 223.38,344.90 223.74,344.90 224.09,344.90 224.45,344.90 224.80,344.90 225.16,344.90 225.51,344.90 225.86,344.90 226.22,344.90 226.57,344.90 226.93,344.90 227.28,344.90 227.64,344.90 227.99,344.90 228.35,344.90 228.70,344.90 229.06,344.90 229.41,344.90 229.76,344.90 230.12,344.90 230.47,344.90 230.83,344.90 231.18,344.90 231.54,344.90 231.89,344.90 232.25,344.90 232.60,344.90 232.96,344.90 233.31,344.90 233.66,344.90 234.02,344.90 234.37,344.90 234.73,344.90 235.08,344.90 235.44,344.90 235.79,344.90 236.15,344.90 236.50,344.90 236.85,344.90 237.21,344.90 237.56,344.90 237.92,344.90 238.27,344.90 238.63,344.90 238.98,344.90 239.34,344.90 239.69,344.90 240.05,344.90 240.40,344.90" fill="none" stroke="#0000ff" stroke-width="1.85" stroke-linejoin="round" clip-path="url(#ce)"/>
<path d="M28.2 448.0v-2M28.2 321.4v2M63.6 448.0v-2M63.6 321.4v2M98.9 448.0v-2M98.9 321.4v2M134.3 448.0v-2M134.3 321.4v2M169.7 448.0v-2M169.7 321.4v2M205.0 448.0v-2M205.0 321.4v2M240.4 448.0v-2M240.4 321.4v2M28.2 321.4h2M28.2 353.0h2M28.2 384.7h2M28.2 416.4h2M28.2 448.0h2" stroke="#969696" stroke-width="1" fill="none"/>
<path d="M240.4 448.0h-2M240.4 416.4h-2M240.4 384.7h-2M240.4 353.0h-2M240.4 321.4h-2" stroke="#9c9cff" stroke-width="1" fill="none"/>
<text x="24.9" y="324.8" text-anchor="end" font-size="8.3" letter-spacing="-0.5" fill="#262626" stroke="#262626" stroke-width="0.15">0.2</text>
<text x="24.9" y="356.4" text-anchor="end" font-size="8.3" letter-spacing="-0.5" fill="#262626" stroke="#262626" stroke-width="0.15">0</text>
<text x="24.9" y="388.1" text-anchor="end" font-size="8.3" letter-spacing="-0.5" fill="#262626" stroke="#262626" stroke-width="0.15">-0.2</text>
<text x="24.9" y="419.8" text-anchor="end" font-size="8.3" letter-spacing="-0.5" fill="#262626" stroke="#262626" stroke-width="0.15">-0.4</text>
<text x="24.9" y="451.4" text-anchor="end" font-size="8.3" letter-spacing="-0.5" fill="#262626" stroke="#262626" stroke-width="0.15">-0.6</text>
<text x="28.6" y="459.3" text-anchor="middle" font-size="8.3" letter-spacing="-0.4" fill="#262626" stroke="#262626" stroke-width="0.15">-6</text>
<text x="64.0" y="459.3" text-anchor="middle" font-size="8.3" letter-spacing="-0.4" fill="#262626" stroke="#262626" stroke-width="0.15">-4</text>
<text x="99.3" y="459.3" text-anchor="middle" font-size="8.3" letter-spacing="-0.4" fill="#262626" stroke="#262626" stroke-width="0.15">-2</text>
<text x="134.5" y="459.3" text-anchor="middle" font-size="8.3" fill="#262626" stroke="#262626" stroke-width="0.15">0</text>
<text x="169.9" y="459.3" text-anchor="middle" font-size="8.3" fill="#262626" stroke="#262626" stroke-width="0.15">2</text>
<text x="205.2" y="459.3" text-anchor="middle" font-size="8.3" fill="#262626" stroke="#262626" stroke-width="0.15">4</text>
<text x="240.6" y="459.3" text-anchor="middle" font-size="8.3" fill="#262626" stroke="#262626" stroke-width="0.15">6</text>
<text x="243.3" y="451.2" font-size="8.3" fill="#2020ff" stroke="#2020ff" stroke-width="0.25">0</text>
<text x="243.3" y="419.6" font-size="8.3" fill="#2020ff" stroke="#2020ff" stroke-width="0.25">1</text>
<text x="243.3" y="387.9" font-size="8.3" fill="#2020ff" stroke="#2020ff" stroke-width="0.25">2</text>
<text x="243.3" y="356.2" font-size="8.3" fill="#2020ff" stroke="#2020ff" stroke-width="0.25">3</text>
<text x="243.3" y="324.6" font-size="8.3" fill="#2020ff" stroke="#2020ff" stroke-width="0.25">4</text>
<text x="240.6" y="318.3" font-size="9.5" fill="#2020ff">×</text>
<text x="246.9" y="317.5" font-size="7.4" stroke="#2020ff" stroke-width="0.2" fill="#2020ff">10</text>
<text x="254.7" y="314.0" font-size="7" stroke="#2020ff" stroke-width="0.2" fill="#2020ff">-5</text>
<text transform="translate(7.8,384.3) rotate(-90)" text-anchor="middle" font-size="8.6" fill="#262626" stroke="#262626" stroke-width="0.25">Phase Delay (rad)</text>
<text transform="translate(258.2,385.3) rotate(-90)" text-anchor="middle" font-size="8.1" fill="#2020ff" stroke="#2020ff" stroke-width="0.35">n-1</text>
<text x="134.3" y="469.7" text-anchor="middle" font-size="8.4" fill="#262626" stroke="#262626" stroke-width="0.2">Distance (mm)</text>
<text x="234.8" y="332.6" text-anchor="end" font-size="10.3" fill="#262626" stroke="#262626" stroke-width="0.25">(e)</text>
<rect x="171.4" y="403.0" width="63.6" height="39.0" fill="#fff" stroke="#9a9a9a" stroke-width="1"/>
<path d="M171.4 413.4H235.0" stroke="#9a9a9a" stroke-width="1"/>
<text x="204.0" y="411.2" text-anchor="middle" font-size="7.5" font-weight="bold" fill="#000">TD = 200 µs</text>
<circle cx="185.0" cy="419.0" r="1" fill="#000"/>
<path d="M173.6 427.6h23" stroke="#ff0000" stroke-width="1.9"/>
<path d="M173.6 436.6h23" stroke="#0000ff" stroke-width="1.9"/>
<text x="198.5" y="421.8" font-size="6.9" fill="#262626" stroke="#262626" stroke-width="0.12">ΔΦ (Exp.)</text>
<text x="198.5" y="430.5" font-size="6.9" fill="#262626" stroke="#262626" stroke-width="0.12">ΔΦ (Fitted)</text>
<text x="198.5" y="439.2" font-size="6.9" fill="#262626" stroke="#262626" stroke-width="0.12">n-1 (Fitted)</text>
<clipPath id="cf"><rect x="299.4" y="321.4" width="212.70000000000005" height="126.60000000000002"/></clipPath>
<path d="M298.5 321V449M300 322.5H512.1M300 447.5H512.1" stroke="#e6e6e6" stroke-width="1" fill="none" shape-rendering="crispEdges"/>
<path d="M299 321.5H512.1" stroke="#aaaaaa" stroke-width="1" fill="none" shape-rendering="crispEdges"/>
<path d="M299.5 321V449M299 448.5H512.1" stroke="#969696" stroke-width="1" fill="none" shape-rendering="crispEdges"/>
<path d="M513.5 321.4V448.0" stroke="#d4d4ff" stroke-width="1" fill="none" shape-rendering="crispEdges"/>
<path d="M512.5 321.4V448.0" stroke="#9c9cff" stroke-width="1" fill="none" shape-rendering="crispEdges"/>
<path d="M299.6 346.8h0M300.4 358.8h0M301.3 362.9h0M303.7 362.0h0M304.2 358.0h0M305.1 336.7h0M306.0 346.0h0M306.6 359.4h0M307.7 364.1h0M308.9 363.1h0M309.5 358.0h0M310.1 366.2h0M310.6 361.5h0M311.6 363.5h0M312.7 358.0h0M313.6 351.3h0M314.7 346.8h0M316.2 344.9h0M317.0 348.4h0M315.3 358.5h0M317.6 359.2h0M319.4 359.4h0M318.8 362.7h0M320.5 359.2h0M321.1 362.0h0M322.3 362.9h0M322.9 365.0h0M324.0 364.7h0M325.2 365.0h0M322.1 368.1h0M324.4 359.4h0M326.0 351.0h0M326.9 355.9h0M327.5 357.7h0M329.0 337.9h0M328.1 348.0h0M329.5 349.9h0M331.6 354.8h0M332.8 353.8h0M333.0 344.5h0M333.9 354.8h0M334.9 349.9h0M335.7 358.8h0M336.2 368.7h0M337.2 363.1h0M338.0 342.9h0M339.2 346.6h0M339.8 351.9h0M340.3 365.0h0M341.1 350.7h0M342.3 346.8h0M343.0 351.5h0M343.8 362.0h0M344.4 346.0h0M345.3 349.9h0M346.1 349.2h0M347.3 348.4h0M346.7 354.8h0M348.5 367.8h0M349.1 359.2h0M350.2 355.3h0M351.1 365.2h0M352.3 332.1h0M303.1 369.9h0M301.9 374.0h0M354.2 344.3h0M355.3 342.5h0M357.7 349.5h0M358.8 350.7h0M360.2 351.5h0M361.1 345.7h0M362.3 352.2h0M357.1 358.5h0M359.4 359.6h0M363.7 357.7h0M364.6 358.5h0M365.8 351.5h0M366.7 356.2h0M367.9 356.9h0M369.1 355.9h0M367.6 361.2h0M371.0 349.5h0M371.9 352.7h0M373.9 361.2h0M374.5 365.8h0M376.9 357.7h0M378.6 361.2h0M369.9 368.7h0M370.5 372.2h0M377.9 375.9h0M381.4 376.6h0M375.6 379.3h0M379.8 382.5h0M385.9 378.7h0M389.0 380.6h0M386.6 383.8h0M388.2 386.1h0M382.7 387.7h0M385.1 390.1h0M390.6 390.1h0M393.8 393.6h0M386.6 392.5h0M402.5 396.4h0M397.7 400.4h0M391.4 405.6h0M393.0 406.8h0M400.1 407.2h0M402.5 406.3h0M398.5 413.9h0M396.9 415.5h0M404.9 412.3h0M404.1 418.3h0M405.7 425.0h0" stroke="#000" stroke-width="2.1" stroke-linecap="round" fill="none"/>
<polyline points="299.40,353.05 299.84,353.05 300.29,353.05 300.73,353.05 301.17,353.05 301.62,353.05 302.06,353.05 302.50,353.05 302.94,353.05 303.39,353.05 303.83,353.05 304.27,353.05 304.72,353.05 305.16,353.05 305.60,353.05 306.05,353.05 306.49,353.05 306.93,353.05 307.38,353.05 307.82,353.05 308.26,353.05 308.71,353.05 309.15,353.05 309.59,353.05 310.03,353.05 310.48,353.05 310.92,353.05 311.36,353.05 311.81,353.05 312.25,353.05 312.69,353.05 313.14,353.05 313.58,353.05 314.02,353.05 314.47,353.05 314.91,353.05 315.35,353.05 315.80,353.05 316.24,353.05 316.68,353.05 317.12,353.05 317.57,353.05 318.01,353.05 318.45,353.05 318.90,353.05 319.34,353.05 319.78,353.05 320.23,353.05 320.67,353.05 321.11,353.05 321.56,353.05 322.00,353.05 322.44,353.05 322.89,353.05 323.33,353.05 323.77,353.05 324.21,353.05 324.66,353.05 325.10,353.05 325.54,353.05 325.99,353.05 326.43,353.05 326.87,353.05 327.32,353.05 327.76,353.05 328.20,353.05 328.65,353.05 329.09,353.05 329.53,353.05 329.98,353.05 330.42,353.05 330.86,353.05 331.31,353.05 331.75,353.05 332.19,353.05 332.63,353.05 333.08,353.05 333.52,353.05 333.96,353.05 334.41,353.05 334.85,353.05 335.29,353.05 335.74,353.05 336.18,353.05 336.62,353.05 337.07,353.05 337.51,353.05 337.95,353.05 338.39,353.05 338.84,353.05 339.28,353.05 339.72,353.05 340.17,353.05 340.61,353.05 341.05,353.05 341.50,353.05 341.94,353.05 342.38,353.05 342.83,353.05 343.27,353.05 343.71,353.05 344.16,353.05 344.60,353.05 345.04,353.05 345.49,353.05 345.93,353.06 346.37,353.06 346.81,353.07 347.26,353.07 347.70,353.08 348.14,353.09 348.59,353.10 349.03,353.11 349.47,353.12 349.92,353.13 350.36,353.15 350.80,353.16 351.25,353.18 351.69,353.21 352.13,353.23 352.57,353.26 353.02,353.30 353.46,353.34 353.90,353.38 354.35,353.42 354.79,353.47 355.23,353.53 355.68,353.59 356.12,353.65 356.56,353.72 357.01,353.79 357.45,353.87 357.89,353.96 358.34,354.06 358.78,354.17 359.22,354.29 359.67,354.42 360.11,354.56 360.55,354.71 360.99,354.87 361.44,355.05 361.88,355.23 362.32,355.43 362.77,355.63 363.21,355.85 363.65,356.08 364.10,356.33 364.54,356.60 364.98,356.89 365.43,357.19 365.87,357.50 366.31,357.84 366.75,358.18 367.20,358.54 367.64,358.92 368.08,359.31 368.53,359.72 368.97,360.15 369.41,360.60 369.86,361.06 370.30,361.54 370.74,362.03 371.19,362.55 371.63,363.08 372.07,363.64 372.52,364.22 372.96,364.82 373.40,365.44 373.85,366.08 374.29,366.73 374.73,367.41 375.17,368.09 375.62,368.78 376.06,369.48 376.50,370.20 376.95,370.92 377.39,371.65 377.83,372.40 378.28,373.15 378.72,373.92 379.16,374.70 379.61,375.50 380.05,376.32 380.49,377.16 380.94,377.99 381.38,378.83 381.82,379.66 382.26,380.49 382.71,381.31 383.15,382.14 383.59,382.96 384.04,383.78 384.48,384.59 384.92,385.41 385.37,386.21 385.81,387.01 386.25,387.80 386.70,388.58 387.14,389.35 387.58,390.11 388.02,390.86 388.47,391.59 388.91,392.31 389.35,393.02 389.80,393.71 390.24,394.38 390.68,395.04 391.13,395.68 391.57,396.30 392.01,396.91 392.46,397.51 392.90,398.08 393.34,398.64 393.79,399.18 394.23,399.71 394.67,400.22 395.12,400.72 395.56,401.20 396.00,401.66 396.44,402.10 396.89,402.53 397.33,402.93 397.77,403.32 398.22,403.69 398.66,404.05 399.10,404.39 399.55,404.70 399.99,405.01 400.43,405.29 400.88,405.56 401.32,405.81 401.76,406.05 402.21,406.26 402.65,406.47 403.09,406.65 403.53,406.82 403.98,406.98 404.42,407.13 404.86,407.27 405.31,407.41 405.75,407.64" fill="none" stroke="#ff0000" stroke-width="1.8" stroke-linejoin="round"/>
<polyline points="405.80,416.60 406.16,416.48 406.51,416.35 406.87,416.22 407.22,416.08 407.58,415.93 407.93,415.78 408.29,415.62 408.64,415.46 409.00,415.29 409.36,415.12 409.71,414.95 410.07,414.77 410.42,414.58 410.78,414.39 411.13,414.19 411.49,413.99 411.84,413.78 412.20,413.57 412.55,413.34 412.91,413.11 413.27,412.87 413.62,412.63 413.98,412.37 414.33,412.11 414.69,411.83 415.04,411.54 415.40,411.24 415.75,410.91 416.11,410.58 416.47,410.23 416.82,409.87 417.18,409.49 417.53,409.11 417.89,408.72 418.24,408.32 418.60,407.92 418.95,407.50 419.31,407.08 419.67,406.64 420.02,406.19 420.38,405.72 420.73,405.24 421.09,404.74 421.44,404.23 421.80,403.71 422.15,403.17 422.51,402.61 422.86,402.03 423.22,401.42 423.58,400.79 423.93,400.14 424.29,399.48 424.64,398.80 425.00,398.10 425.35,397.39 425.71,396.65 426.06,395.89 426.42,395.11 426.78,394.31 427.13,393.50 427.49,392.68 427.84,391.86 428.20,391.04 428.55,390.22 428.91,389.39 429.26,388.56 429.62,387.71 429.98,386.84 430.33,385.96 430.69,385.06 431.04,384.12 431.40,383.12 431.75,382.09 432.11,381.06 432.46,380.06 432.82,379.13 433.17,378.23 433.53,377.34 433.89,376.48 434.24,375.62 434.60,374.79 434.95,373.96 435.31,373.13 435.66,372.32 436.02,371.50 436.37,370.69 436.73,369.87 437.09,369.04 437.44,368.21 437.80,367.38 438.15,366.55 438.51,365.73 438.86,364.92 439.22,364.13 439.57,363.36 439.93,362.61 440.29,361.89 440.64,361.21 441.00,360.56 441.35,359.92 441.71,359.29 442.06,358.68 442.42,358.09 442.77,357.51 443.13,356.95 443.48,356.40 443.84,355.87 444.20,355.36 444.55,354.87 444.91,354.39 445.26,353.93 445.62,353.46 445.97,353.01 446.33,352.57 446.68,352.14 447.04,351.72 447.40,351.32 447.75,350.94 448.11,350.58 448.46,350.24 448.82,349.93 449.17,349.64 449.53,349.37 449.88,349.10 450.24,348.84 450.60,348.59 450.95,348.34 451.31,348.10 451.66,347.87 452.02,347.65 452.37,347.44 452.73,347.24 453.08,347.06 453.44,346.88 453.79,346.72 454.15,346.58 454.51,346.45 454.86,346.34 455.22,346.24 455.57,346.15 455.93,346.06 456.28,345.97 456.64,345.88 456.99,345.80 457.35,345.72 457.71,345.65 458.06,345.58 458.42,345.51 458.77,345.45 459.13,345.39 459.48,345.33 459.84,345.29 460.19,345.24 460.55,345.20 460.91,345.17 461.26,345.14 461.62,345.11 461.97,345.09 462.33,345.07 462.68,345.05 463.04,345.04 463.39,345.02 463.75,345.00 464.11,344.99 464.46,344.97 464.82,344.96 465.17,344.95 465.53,344.94 465.88,344.93 466.24,344.92 466.59,344.91 466.95,344.91 467.30,344.90 467.66,344.90 468.02,344.90 468.37,344.90 468.73,344.90 469.08,344.90 469.44,344.90 469.79,344.90 470.15,344.90 470.50,344.90 470.86,344.90 471.22,344.90 471.57,344.90 471.93,344.90 472.28,344.90 472.64,344.90 472.99,344.90 473.35,344.90 473.70,344.90 474.06,344.90 474.42,344.90 474.77,344.90 475.13,344.90 475.48,344.90 475.84,344.90 476.19,344.90 476.55,344.90 476.90,344.90 477.26,344.90 477.61,344.90 477.97,344.90 478.33,344.90 478.68,344.90 479.04,344.90 479.39,344.90 479.75,344.90 480.10,344.90 480.46,344.90 480.81,344.90 481.17,344.90 481.53,344.90 481.88,344.90 482.24,344.90 482.59,344.90 482.95,344.90 483.30,344.90 483.66,344.90 484.01,344.90 484.37,344.90 484.73,344.90 485.08,344.90 485.44,344.90 485.79,344.90 486.15,344.90 486.50,344.90 486.86,344.90 487.21,344.90 487.57,344.90 487.92,344.90 488.28,344.90 488.64,344.90 488.99,344.90 489.35,344.90 489.70,344.90 490.06,344.90 490.41,344.90 490.77,344.90 491.12,344.90 491.48,344.90 491.84,344.90 492.19,344.90 492.55,344.90 492.90,344.90 493.26,344.90 493.61,344.90 493.97,344.90 494.32,344.90 494.68,344.90 495.04,344.90 495.39,344.90 495.75,344.90 496.10,344.90 496.46,344.90 496.81,344.90 497.17,344.90 497.52,344.90 497.88,344.90 498.23,344.90 498.59,344.90 498.95,344.90 499.30,344.90 499.66,344.90 500.01,344.90 500.37,344.90 500.72,344.90 501.08,344.90 501.43,344.90 501.79,344.90 502.15,344.90 502.50,344.90 502.86,344.90 503.21,344.90 503.57,344.90 503.92,344.90 504.28,344.90 504.63,344.90 504.99,344.90 505.35,344.90 505.70,344.90 506.06,344.90 506.41,344.90 506.77,344.90 507.12,344.90 507.48,344.90 507.83,344.90 508.19,344.90 508.54,344.90 508.90,344.90 509.26,344.90 509.61,344.90 509.97,344.90 510.32,344.90 510.68,344.90 511.03,344.90 511.39,344.90 511.74,344.90 512.10,344.90" fill="none" stroke="#0000ff" stroke-width="1.85" stroke-linejoin="round" clip-path="url(#cf)"/>
<path d="M299.4 448.0v-2M299.4 321.4v2M334.8 448.0v-2M334.8 321.4v2M370.3 448.0v-2M370.3 321.4v2M405.8 448.0v-2M405.8 321.4v2M441.2 448.0v-2M441.2 321.4v2M476.7 448.0v-2M476.7 321.4v2M512.1 448.0v-2M512.1 321.4v2M299.4 321.4h2M299.4 353.0h2M299.4 384.7h2M299.4 416.4h2M299.4 448.0h2" stroke="#969696" stroke-width="1" fill="none"/>
<path d="M512.1 448.0h-2M512.1 416.4h-2M512.1 384.7h-2M512.1 353.0h-2M512.1 321.4h-2" stroke="#9c9cff" stroke-width="1" fill="none"/>
<text x="296.1" y="324.8" text-anchor="end" font-size="8.3" letter-spacing="-0.5" fill="#262626" stroke="#262626" stroke-width="0.15">0.2</text>
<text x="296.1" y="356.4" text-anchor="end" font-size="8.3" letter-spacing="-0.5" fill="#262626" stroke="#262626" stroke-width="0.15">0</text>
<text x="296.1" y="388.1" text-anchor="end" font-size="8.3" letter-spacing="-0.5" fill="#262626" stroke="#262626" stroke-width="0.15">-0.2</text>
<text x="296.1" y="419.8" text-anchor="end" font-size="8.3" letter-spacing="-0.5" fill="#262626" stroke="#262626" stroke-width="0.15">-0.4</text>
<text x="296.1" y="451.4" text-anchor="end" font-size="8.3" letter-spacing="-0.5" fill="#262626" stroke="#262626" stroke-width="0.15">-0.6</text>
<text x="299.8" y="459.3" text-anchor="middle" font-size="8.3" letter-spacing="-0.4" fill="#262626" stroke="#262626" stroke-width="0.15">-6</text>
<text x="335.2" y="459.3" text-anchor="middle" font-size="8.3" letter-spacing="-0.4" fill="#262626" stroke="#262626" stroke-width="0.15">-4</text>
<text x="370.7" y="459.3" text-anchor="middle" font-size="8.3" letter-spacing="-0.4" fill="#262626" stroke="#262626" stroke-width="0.15">-2</text>
<text x="405.9" y="459.3" text-anchor="middle" font-size="8.3" fill="#262626" stroke="#262626" stroke-width="0.15">0</text>
<text x="441.4" y="459.3" text-anchor="middle" font-size="8.3" fill="#262626" stroke="#262626" stroke-width="0.15">2</text>
<text x="476.9" y="459.3" text-anchor="middle" font-size="8.3" fill="#262626" stroke="#262626" stroke-width="0.15">4</text>
<text x="512.3" y="459.3" text-anchor="middle" font-size="8.3" fill="#262626" stroke="#262626" stroke-width="0.15">6</text>
<text x="515.0" y="451.2" font-size="8.3" fill="#2020ff" stroke="#2020ff" stroke-width="0.25">0</text>
<text x="515.0" y="419.6" font-size="8.3" fill="#2020ff" stroke="#2020ff" stroke-width="0.25">1</text>
<text x="515.0" y="387.9" font-size="8.3" fill="#2020ff" stroke="#2020ff" stroke-width="0.25">2</text>
<text x="515.0" y="356.2" font-size="8.3" fill="#2020ff" stroke="#2020ff" stroke-width="0.25">3</text>
<text x="515.0" y="324.6" font-size="8.3" fill="#2020ff" stroke="#2020ff" stroke-width="0.25">4</text>
<text x="512.3" y="318.3" font-size="9.5" fill="#2020ff">×</text>
<text x="518.6" y="317.5" font-size="7.4" stroke="#2020ff" stroke-width="0.2" fill="#2020ff">10</text>
<text x="526.4" y="314.0" font-size="7" stroke="#2020ff" stroke-width="0.2" fill="#2020ff">-5</text>
<text transform="translate(279.0,384.3) rotate(-90)" text-anchor="middle" font-size="8.6" fill="#262626" stroke="#262626" stroke-width="0.25">Phase Delay (rad)</text>
<text transform="translate(529.9,385.3) rotate(-90)" text-anchor="middle" font-size="8.1" fill="#2020ff" stroke="#2020ff" stroke-width="0.35">n-1</text>
<text x="405.8" y="469.7" text-anchor="middle" font-size="8.4" fill="#262626" stroke="#262626" stroke-width="0.2">Distance (mm)</text>
<text x="507.4" y="332.6" text-anchor="end" font-size="10.3" fill="#262626" stroke="#262626" stroke-width="0.25">(f)</text>
<rect x="443.1" y="403.0" width="63.6" height="39.0" fill="#fff" stroke="#9a9a9a" stroke-width="1"/>
<path d="M443.1 413.4H506.7" stroke="#9a9a9a" stroke-width="1"/>
<text x="475.7" y="411.2" text-anchor="middle" font-size="7.5" font-weight="bold" fill="#000">TD = 500 µs</text>
<circle cx="456.7" cy="419.0" r="1" fill="#000"/>
<path d="M445.3 427.6h23" stroke="#ff0000" stroke-width="1.9"/>
<path d="M445.3 436.6h23" stroke="#0000ff" stroke-width="1.9"/>
<text x="470.2" y="421.8" font-size="6.9" fill="#262626" stroke="#262626" stroke-width="0.12">ΔΦ (Exp.)</text>
<text x="470.2" y="430.5" font-size="6.9" fill="#262626" stroke="#262626" stroke-width="0.12">ΔΦ (Fitted)</text>
<text x="470.2" y="439.2" font-size="6.9" fill="#262626" stroke="#262626" stroke-width="0.12">n-1 (Fitted)</text>
<text x="36.9" y="70.8" font-size="11.5" fill="#000" stroke="#000" stroke-width="0.25">line-of-sight</text>
<text x="36.9" y="85.0" font-size="11.5" fill="#000" stroke="#000" stroke-width="0.25">integrated</text>
<text x="173.4" y="51.8" font-size="11.5" fill="#000" stroke="#000" stroke-width="0.25">spatially</text>
<text x="173.4" y="64.9" font-size="11.5" fill="#000" stroke="#000" stroke-width="0.25">resolved</text>
</svg>
</body></html>
